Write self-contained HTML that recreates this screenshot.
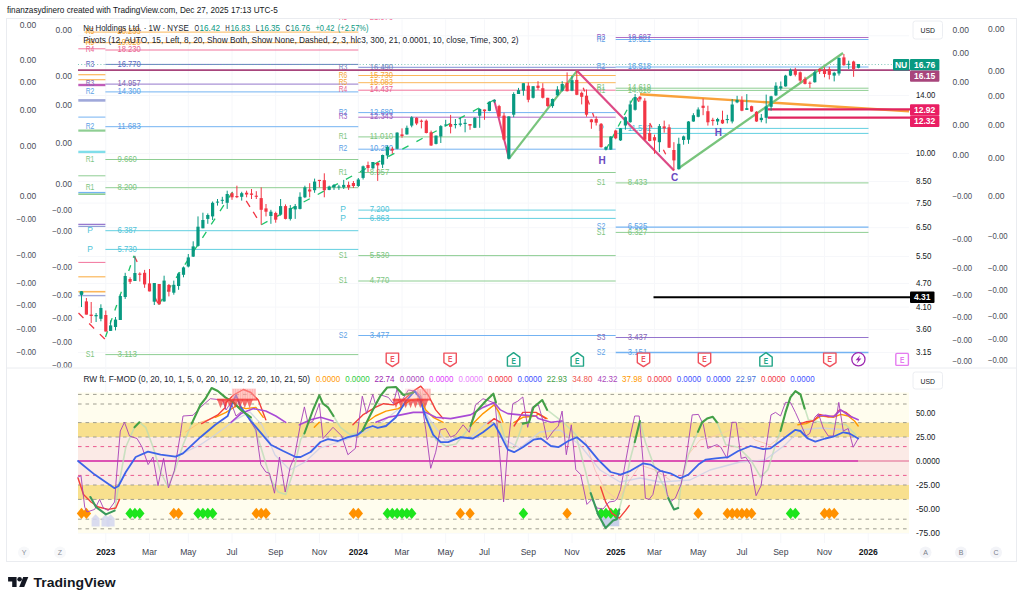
<!DOCTYPE html>
<html><head><meta charset="utf-8"><title>NU chart</title>
<style>
html,body{margin:0;padding:0;background:#fff;}
body{width:1024px;height:603px;overflow:hidden;font-family:"Liberation Sans", sans-serif;}
svg{display:block;font-family:"Liberation Sans", sans-serif;}
</style></head><body>
<svg width="1024" height="603" viewBox="0 0 1024 603">
<defs>
<clipPath id="clipTop"><rect x="0" y="19" width="1024" height="600"/></clipPath>
<clipPath id="clipUp"><rect x="0" y="0" width="1024" height="367.5"/></clipPath>
</defs>
<rect width="1024" height="603" fill="#ffffff"/>
<rect x="6.5" y="18.5" width="1010.0" height="543.0" fill="#fff" stroke="#eaecf0" stroke-width="1"/>
<line x1="6.5" y1="368.0" x2="1016.5" y2="368.0" stroke="#eaecf0" stroke-width="1" />
<line x1="105.8" y1="19.5" x2="105.8" y2="543.0" stroke="#f6f7fa" stroke-width="1" />
<line x1="149.5" y1="19.5" x2="149.5" y2="543.0" stroke="#f6f7fa" stroke-width="1" />
<line x1="188.3" y1="19.5" x2="188.3" y2="543.0" stroke="#f6f7fa" stroke-width="1" />
<line x1="232.0" y1="19.5" x2="232.0" y2="543.0" stroke="#f6f7fa" stroke-width="1" />
<line x1="275.7" y1="19.5" x2="275.7" y2="543.0" stroke="#f6f7fa" stroke-width="1" />
<line x1="319.4" y1="19.5" x2="319.4" y2="543.0" stroke="#f6f7fa" stroke-width="1" />
<line x1="358.3" y1="19.5" x2="358.3" y2="543.0" stroke="#f6f7fa" stroke-width="1" />
<line x1="402.0" y1="19.5" x2="402.0" y2="543.0" stroke="#f6f7fa" stroke-width="1" />
<line x1="445.7" y1="19.5" x2="445.7" y2="543.0" stroke="#f6f7fa" stroke-width="1" />
<line x1="484.5" y1="19.5" x2="484.5" y2="543.0" stroke="#f6f7fa" stroke-width="1" />
<line x1="528.3" y1="19.5" x2="528.3" y2="543.0" stroke="#f6f7fa" stroke-width="1" />
<line x1="572.0" y1="19.5" x2="572.0" y2="543.0" stroke="#f6f7fa" stroke-width="1" />
<line x1="615.7" y1="19.5" x2="615.7" y2="543.0" stroke="#f6f7fa" stroke-width="1" />
<line x1="654.5" y1="19.5" x2="654.5" y2="543.0" stroke="#f6f7fa" stroke-width="1" />
<line x1="698.2" y1="19.5" x2="698.2" y2="543.0" stroke="#f6f7fa" stroke-width="1" />
<line x1="741.9" y1="19.5" x2="741.9" y2="543.0" stroke="#f6f7fa" stroke-width="1" />
<line x1="780.8" y1="19.5" x2="780.8" y2="543.0" stroke="#f6f7fa" stroke-width="1" />
<line x1="824.5" y1="19.5" x2="824.5" y2="543.0" stroke="#f6f7fa" stroke-width="1" />
<line x1="868.2" y1="19.5" x2="868.2" y2="543.0" stroke="#f6f7fa" stroke-width="1" />
<line x1="78.0" y1="95.5" x2="909.0" y2="95.5" stroke="#f6f7fa" stroke-width="1" />
<line x1="78.0" y1="153.5" x2="909.0" y2="153.5" stroke="#f6f7fa" stroke-width="1" />
<line x1="78.0" y1="181.5" x2="909.0" y2="181.5" stroke="#f6f7fa" stroke-width="1" />
<line x1="78.0" y1="203.1" x2="909.0" y2="203.1" stroke="#f6f7fa" stroke-width="1" />
<line x1="78.0" y1="227.7" x2="909.0" y2="227.7" stroke="#f6f7fa" stroke-width="1" />
<line x1="78.0" y1="256.5" x2="909.0" y2="256.5" stroke="#f6f7fa" stroke-width="1" />
<line x1="78.0" y1="283.6" x2="909.0" y2="283.6" stroke="#f6f7fa" stroke-width="1" />
<line x1="78.0" y1="307.1" x2="909.0" y2="307.1" stroke="#f6f7fa" stroke-width="1" />
<line x1="78.0" y1="329.5" x2="909.0" y2="329.5" stroke="#f6f7fa" stroke-width="1" />
<line x1="78.0" y1="352.5" x2="909.0" y2="352.5" stroke="#f6f7fa" stroke-width="1" />
<line x1="78.0" y1="35.8" x2="909.0" y2="35.8" stroke="#f6f7fa" stroke-width="1" />
<line x1="78.0" y1="413.0" x2="909.0" y2="413.0" stroke="#f6f7fa" stroke-width="1" />
<line x1="78.0" y1="437.0" x2="909.0" y2="437.0" stroke="#f6f7fa" stroke-width="1" />
<line x1="78.0" y1="485.0" x2="909.0" y2="485.0" stroke="#f6f7fa" stroke-width="1" />
<line x1="78.0" y1="509.0" x2="909.0" y2="509.0" stroke="#f6f7fa" stroke-width="1" />
<line x1="78.0" y1="533.0" x2="909.0" y2="533.0" stroke="#f6f7fa" stroke-width="1" />
<line x1="78.3" y1="48.8" x2="105.4" y2="48.8" stroke="#f2749c" stroke-width="1" />
<line x1="78.3" y1="74.7" x2="105.4" y2="74.7" stroke="#fbb75a" stroke-width="1.2" />
<line x1="78.3" y1="79.7" x2="105.4" y2="79.7" stroke="#fbb75a" stroke-width="1.2" />
<line x1="78.3" y1="85.0" x2="105.4" y2="85.0" stroke="#c05cb8" stroke-width="2.4" />
<line x1="78.3" y1="100.4" x2="105.4" y2="100.4" stroke="#9fa8da" stroke-width="2.6" />
<line x1="78.3" y1="117.1" x2="105.4" y2="117.1" stroke="#74b3f2" stroke-width="1" />
<line x1="78.3" y1="130.6" x2="105.4" y2="130.6" stroke="#8fce93" stroke-width="2.2" />
<line x1="78.3" y1="151.9" x2="105.4" y2="151.9" stroke="#80deea" stroke-width="2.4" />
<line x1="78.3" y1="175.8" x2="105.4" y2="175.8" stroke="#8fce93" stroke-width="1" />
<line x1="78.3" y1="192.6" x2="105.4" y2="192.6" stroke="#74b3f2" stroke-width="1.4" />
<line x1="78.3" y1="194.2" x2="105.4" y2="194.2" stroke="#8fce93" stroke-width="1.6" />
<line x1="78.3" y1="224.3" x2="105.4" y2="224.3" stroke="#7e57c2" stroke-width="1" />
<line x1="78.3" y1="226.3" x2="105.4" y2="226.3" stroke="#7986cb" stroke-width="1" />
<line x1="78.3" y1="262.4" x2="105.4" y2="262.4" stroke="#f2749c" stroke-width="1" />
<line x1="78.3" y1="276.8" x2="105.4" y2="276.8" stroke="#fbb75a" stroke-width="1.2" />
<line x1="78.3" y1="291.7" x2="105.4" y2="291.7" stroke="#fbb75a" stroke-width="1.6" />
<line x1="78.3" y1="295.6" x2="105.4" y2="295.6" stroke="#9fa8da" stroke-width="1.4" />
<line x1="84.3" y1="32.1" x2="358.3" y2="32.1" stroke="#fbb75a" stroke-width="1" />
<text x="90.0" y="34.3" font-size="8.5" fill="#f5a638" text-anchor="middle" font-weight="normal"  textLength="8.6" lengthAdjust="spacingAndGlyphs">R5</text>
<text x="117.5" y="34.3" font-size="8.5" fill="#f5a638" text-anchor="start" font-weight="normal"  textLength="23.3" lengthAdjust="spacingAndGlyphs">20.233</text>
<line x1="84.3" y1="42.7" x2="358.3" y2="42.7" stroke="#fbb75a" stroke-width="1" />
<text x="90.0" y="44.9" font-size="8.5" fill="#f5a638" text-anchor="middle" font-weight="normal"  textLength="8.6" lengthAdjust="spacingAndGlyphs">R5</text>
<text x="117.5" y="44.9" font-size="8.5" fill="#f5a638" text-anchor="start" font-weight="normal"  textLength="23.3" lengthAdjust="spacingAndGlyphs">19.020</text>
<line x1="105.4" y1="50.0" x2="358.3" y2="50.0" stroke="#f2749c" stroke-width="1" />
<text x="90.0" y="52.2" font-size="8.5" fill="#e8628f" text-anchor="middle" font-weight="normal"  textLength="8.6" lengthAdjust="spacingAndGlyphs">R4</text>
<text x="117.5" y="52.2" font-size="8.5" fill="#e8628f" text-anchor="start" font-weight="normal"  textLength="23.3" lengthAdjust="spacingAndGlyphs">18.230</text>
<line x1="105.4" y1="64.4" x2="358.3" y2="64.4" stroke="#6a78c4" stroke-width="1" />
<text x="90.0" y="66.6" font-size="8.5" fill="#5c6bc0" text-anchor="middle" font-weight="normal"  textLength="8.6" lengthAdjust="spacingAndGlyphs">R3</text>
<text x="117.5" y="66.6" font-size="8.5" fill="#5c6bc0" text-anchor="start" font-weight="normal"  textLength="23.3" lengthAdjust="spacingAndGlyphs">16.770</text>
<line x1="105.4" y1="84.1" x2="358.3" y2="84.1" stroke="#9478cc" stroke-width="1" />
<text x="90.0" y="86.3" font-size="8.5" fill="#8269b3" text-anchor="middle" font-weight="normal"  textLength="8.6" lengthAdjust="spacingAndGlyphs">R3</text>
<text x="117.5" y="86.3" font-size="8.5" fill="#8269b3" text-anchor="start" font-weight="normal"  textLength="23.3" lengthAdjust="spacingAndGlyphs">14.957</text>
<line x1="105.4" y1="91.9" x2="358.3" y2="91.9" stroke="#74b3f2" stroke-width="1" />
<text x="90.0" y="94.1" font-size="8.5" fill="#5b9fe6" text-anchor="middle" font-weight="normal"  textLength="8.6" lengthAdjust="spacingAndGlyphs">R2</text>
<text x="117.5" y="94.1" font-size="8.5" fill="#5b9fe6" text-anchor="start" font-weight="normal"  textLength="23.3" lengthAdjust="spacingAndGlyphs">14.300</text>
<line x1="105.4" y1="126.7" x2="358.3" y2="126.7" stroke="#74b3f2" stroke-width="1" />
<text x="90.0" y="128.9" font-size="8.5" fill="#5b9fe6" text-anchor="middle" font-weight="normal"  textLength="8.6" lengthAdjust="spacingAndGlyphs">R2</text>
<text x="117.5" y="128.9" font-size="8.5" fill="#5b9fe6" text-anchor="start" font-weight="normal"  textLength="23.3" lengthAdjust="spacingAndGlyphs">11.683</text>
<line x1="105.4" y1="159.5" x2="358.3" y2="159.5" stroke="#8fce93" stroke-width="1" />
<text x="90.0" y="161.7" font-size="8.5" fill="#7cc580" text-anchor="middle" font-weight="normal"  textLength="8.6" lengthAdjust="spacingAndGlyphs">R1</text>
<text x="117.5" y="161.7" font-size="8.5" fill="#7cc580" text-anchor="start" font-weight="normal"  textLength="19.4" lengthAdjust="spacingAndGlyphs">9.660</text>
<line x1="105.4" y1="187.7" x2="358.3" y2="187.7" stroke="#8fce93" stroke-width="1" />
<text x="90.0" y="189.9" font-size="8.5" fill="#7cc580" text-anchor="middle" font-weight="normal"  textLength="8.6" lengthAdjust="spacingAndGlyphs">R1</text>
<text x="117.5" y="189.9" font-size="8.5" fill="#7cc580" text-anchor="start" font-weight="normal"  textLength="19.4" lengthAdjust="spacingAndGlyphs">8.200</text>
<line x1="105.4" y1="230.7" x2="358.3" y2="230.7" stroke="#62cfe0" stroke-width="1" />
<text x="90.0" y="232.9" font-size="8.5" fill="#4fc3d8" text-anchor="middle" font-weight="normal" >P</text>
<text x="117.5" y="232.9" font-size="8.5" fill="#4fc3d8" text-anchor="start" font-weight="normal"  textLength="19.4" lengthAdjust="spacingAndGlyphs">6.387</text>
<line x1="105.4" y1="249.4" x2="358.3" y2="249.4" stroke="#62cfe0" stroke-width="1" />
<text x="90.0" y="251.6" font-size="8.5" fill="#4fc3d8" text-anchor="middle" font-weight="normal" >P</text>
<text x="117.5" y="251.6" font-size="8.5" fill="#4fc3d8" text-anchor="start" font-weight="normal"  textLength="19.4" lengthAdjust="spacingAndGlyphs">5.730</text>
<line x1="105.4" y1="354.6" x2="358.3" y2="354.6" stroke="#8fce93" stroke-width="1" />
<text x="90.0" y="356.8" font-size="8.5" fill="#7cc580" text-anchor="middle" font-weight="normal"  textLength="8.6" lengthAdjust="spacingAndGlyphs">S1</text>
<text x="117.5" y="356.8" font-size="8.5" fill="#7cc580" text-anchor="start" font-weight="normal"  textLength="19.4" lengthAdjust="spacingAndGlyphs">3.113</text>
<line x1="358.3" y1="67.3" x2="615.7" y2="67.3" stroke="#7f8fd6" stroke-width="1" />
<text x="343.0" y="69.5" font-size="8.5" fill="#6f7dbc" text-anchor="middle" font-weight="normal"  textLength="8.6" lengthAdjust="spacingAndGlyphs">R3</text>
<text x="369.8" y="69.5" font-size="8.5" fill="#6f7dbc" text-anchor="start" font-weight="normal"  textLength="23.3" lengthAdjust="spacingAndGlyphs">16.490</text>
<line x1="358.3" y1="75.5" x2="615.7" y2="75.5" stroke="#fbb75a" stroke-width="1" />
<text x="343.0" y="77.7" font-size="8.5" fill="#f5a638" text-anchor="middle" font-weight="normal"  textLength="8.6" lengthAdjust="spacingAndGlyphs">R6</text>
<text x="369.8" y="77.7" font-size="8.5" fill="#f5a638" text-anchor="start" font-weight="normal"  textLength="23.3" lengthAdjust="spacingAndGlyphs">15.730</text>
<line x1="358.3" y1="82.7" x2="615.7" y2="82.7" stroke="#fbb75a" stroke-width="1" />
<text x="343.0" y="84.9" font-size="8.5" fill="#f5a638" text-anchor="middle" font-weight="normal"  textLength="8.6" lengthAdjust="spacingAndGlyphs">R5</text>
<text x="369.8" y="84.9" font-size="8.5" fill="#f5a638" text-anchor="start" font-weight="normal"  textLength="23.3" lengthAdjust="spacingAndGlyphs">15.083</text>
<line x1="358.3" y1="90.2" x2="615.7" y2="90.2" stroke="#f2749c" stroke-width="1" />
<text x="343.0" y="92.4" font-size="8.5" fill="#e8628f" text-anchor="middle" font-weight="normal"  textLength="8.6" lengthAdjust="spacingAndGlyphs">R4</text>
<text x="369.8" y="92.4" font-size="8.5" fill="#e8628f" text-anchor="start" font-weight="normal"  textLength="23.3" lengthAdjust="spacingAndGlyphs">14.437</text>
<line x1="358.3" y1="112.6" x2="615.7" y2="112.6" stroke="#74b3f2" stroke-width="1" />
<text x="343.0" y="114.8" font-size="8.5" fill="#5b9fe6" text-anchor="middle" font-weight="normal"  textLength="8.6" lengthAdjust="spacingAndGlyphs">R2</text>
<text x="369.8" y="114.8" font-size="8.5" fill="#5b9fe6" text-anchor="start" font-weight="normal"  textLength="23.3" lengthAdjust="spacingAndGlyphs">12.680</text>
<line x1="358.3" y1="117.2" x2="615.7" y2="117.2" stroke="#b06cc4" stroke-width="1" />
<text x="343.0" y="119.4" font-size="8.5" fill="#9a5cc0" text-anchor="middle" font-weight="normal"  textLength="8.6" lengthAdjust="spacingAndGlyphs">R3</text>
<text x="369.8" y="119.4" font-size="8.5" fill="#9a5cc0" text-anchor="start" font-weight="normal"  textLength="23.3" lengthAdjust="spacingAndGlyphs">12.343</text>
<line x1="358.3" y1="136.9" x2="615.7" y2="136.9" stroke="#8fce93" stroke-width="1" />
<text x="343.0" y="139.1" font-size="8.5" fill="#7cc580" text-anchor="middle" font-weight="normal"  textLength="8.6" lengthAdjust="spacingAndGlyphs">R1</text>
<text x="369.8" y="139.1" font-size="8.5" fill="#7cc580" text-anchor="start" font-weight="normal"  textLength="23.3" lengthAdjust="spacingAndGlyphs">11.010</text>
<line x1="358.3" y1="149.2" x2="615.7" y2="149.2" stroke="#74b3f2" stroke-width="1" />
<text x="343.0" y="151.4" font-size="8.5" fill="#5b9fe6" text-anchor="middle" font-weight="normal"  textLength="8.6" lengthAdjust="spacingAndGlyphs">R2</text>
<text x="369.8" y="151.4" font-size="8.5" fill="#5b9fe6" text-anchor="start" font-weight="normal"  textLength="23.3" lengthAdjust="spacingAndGlyphs">10.250</text>
<line x1="358.3" y1="172.5" x2="615.7" y2="172.5" stroke="#8fce93" stroke-width="1" />
<text x="343.0" y="174.7" font-size="8.5" fill="#7cc580" text-anchor="middle" font-weight="normal"  textLength="8.6" lengthAdjust="spacingAndGlyphs">R1</text>
<text x="369.8" y="174.7" font-size="8.5" fill="#7cc580" text-anchor="start" font-weight="normal"  textLength="19.4" lengthAdjust="spacingAndGlyphs">8.957</text>
<line x1="358.3" y1="210.1" x2="615.7" y2="210.1" stroke="#62cfe0" stroke-width="1" />
<text x="343.0" y="212.3" font-size="8.5" fill="#4fc3d8" text-anchor="middle" font-weight="normal" >P</text>
<text x="369.8" y="212.3" font-size="8.5" fill="#4fc3d8" text-anchor="start" font-weight="normal"  textLength="19.4" lengthAdjust="spacingAndGlyphs">7.200</text>
<line x1="358.3" y1="218.4" x2="615.7" y2="218.4" stroke="#62cfe0" stroke-width="1" />
<text x="343.0" y="220.6" font-size="8.5" fill="#4fc3d8" text-anchor="middle" font-weight="normal" >P</text>
<text x="369.8" y="220.6" font-size="8.5" fill="#4fc3d8" text-anchor="start" font-weight="normal"  textLength="19.4" lengthAdjust="spacingAndGlyphs">6.863</text>
<line x1="358.3" y1="255.6" x2="615.7" y2="255.6" stroke="#8fce93" stroke-width="1" />
<text x="343.0" y="257.8" font-size="8.5" fill="#7cc580" text-anchor="middle" font-weight="normal"  textLength="8.6" lengthAdjust="spacingAndGlyphs">S1</text>
<text x="369.8" y="257.8" font-size="8.5" fill="#7cc580" text-anchor="start" font-weight="normal"  textLength="19.4" lengthAdjust="spacingAndGlyphs">5.530</text>
<line x1="358.3" y1="281.0" x2="615.7" y2="281.0" stroke="#8fce93" stroke-width="1" />
<text x="343.0" y="283.2" font-size="8.5" fill="#7cc580" text-anchor="middle" font-weight="normal"  textLength="8.6" lengthAdjust="spacingAndGlyphs">S1</text>
<text x="369.8" y="283.2" font-size="8.5" fill="#7cc580" text-anchor="start" font-weight="normal"  textLength="19.4" lengthAdjust="spacingAndGlyphs">4.770</text>
<line x1="358.3" y1="335.5" x2="615.7" y2="335.5" stroke="#74b3f2" stroke-width="1" />
<text x="343.0" y="337.7" font-size="8.5" fill="#5b9fe6" text-anchor="middle" font-weight="normal"  textLength="8.6" lengthAdjust="spacingAndGlyphs">S2</text>
<text x="369.8" y="337.7" font-size="8.5" fill="#5b9fe6" text-anchor="start" font-weight="normal"  textLength="19.4" lengthAdjust="spacingAndGlyphs">3.477</text>
<text x="369.8" y="20.0" font-size="8.5" fill="#f2749c" text-anchor="start" font-weight="normal" clip-path="url(#clipTop)" textLength="23.3" lengthAdjust="spacingAndGlyphs">21.976</text>
<text x="343.0" y="20.0" font-size="8.5" fill="#f2749c" text-anchor="middle" font-weight="normal" clip-path="url(#clipTop)" textLength="8.6" lengthAdjust="spacingAndGlyphs">R5</text>
<line x1="615.7" y1="37.5" x2="868.5" y2="37.5" stroke="#b06cc4" stroke-width="1" />
<text x="601.0" y="39.7" font-size="8.5" fill="#9a5cc0" text-anchor="middle" font-weight="normal"  textLength="8.6" lengthAdjust="spacingAndGlyphs">R3</text>
<text x="627.8" y="39.7" font-size="8.5" fill="#9a5cc0" text-anchor="start" font-weight="normal"  textLength="23.3" lengthAdjust="spacingAndGlyphs">19.607</text>
<line x1="615.7" y1="39.5" x2="868.5" y2="39.5" stroke="#74b3f2" stroke-width="1" />
<text x="601.0" y="41.7" font-size="8.5" fill="#5b9fe6" text-anchor="middle" font-weight="normal"  textLength="8.6" lengthAdjust="spacingAndGlyphs">R2</text>
<text x="627.8" y="41.7" font-size="8.5" fill="#5b9fe6" text-anchor="start" font-weight="normal"  textLength="23.3" lengthAdjust="spacingAndGlyphs">19.521</text>
<line x1="615.7" y1="67.0" x2="868.5" y2="67.0" stroke="#74b3f2" stroke-width="1" />
<text x="601.0" y="69.2" font-size="8.5" fill="#5b9fe6" text-anchor="middle" font-weight="normal"  textLength="8.6" lengthAdjust="spacingAndGlyphs">R2</text>
<text x="627.8" y="69.2" font-size="8.5" fill="#5b9fe6" text-anchor="start" font-weight="normal"  textLength="23.3" lengthAdjust="spacingAndGlyphs">16.518</text>
<line x1="615.7" y1="88.2" x2="868.5" y2="88.2" stroke="#8fce93" stroke-width="1" />
<text x="601.0" y="90.4" font-size="8.5" fill="#7cc580" text-anchor="middle" font-weight="normal"  textLength="8.6" lengthAdjust="spacingAndGlyphs">R1</text>
<text x="627.8" y="90.4" font-size="8.5" fill="#7cc580" text-anchor="start" font-weight="normal"  textLength="23.3" lengthAdjust="spacingAndGlyphs">14.619</text>
<line x1="615.7" y1="90.4" x2="868.5" y2="90.4" stroke="#8fce93" stroke-width="1" />
<text x="601.0" y="92.6" font-size="8.5" fill="#7cc580" text-anchor="middle" font-weight="normal"  textLength="8.6" lengthAdjust="spacingAndGlyphs">R1</text>
<text x="627.8" y="92.6" font-size="8.5" fill="#7cc580" text-anchor="start" font-weight="normal"  textLength="23.3" lengthAdjust="spacingAndGlyphs">14.610</text>
<line x1="615.7" y1="128.4" x2="868.5" y2="128.4" stroke="#62cfe0" stroke-width="1" />
<text x="601.0" y="130.6" font-size="8.5" fill="#4fc3d8" text-anchor="middle" font-weight="normal" >P</text>
<text x="627.8" y="130.6" font-size="8.5" fill="#4fc3d8" text-anchor="start" font-weight="normal"  textLength="23.3" lengthAdjust="spacingAndGlyphs">11.552</text>
<line x1="615.7" y1="133.4" x2="868.5" y2="133.4" stroke="#62cfe0" stroke-width="1" />
<line x1="615.7" y1="182.9" x2="868.5" y2="182.9" stroke="#8fce93" stroke-width="1" />
<text x="601.0" y="185.1" font-size="8.5" fill="#7cc580" text-anchor="middle" font-weight="normal"  textLength="8.6" lengthAdjust="spacingAndGlyphs">S1</text>
<text x="627.8" y="185.1" font-size="8.5" fill="#7cc580" text-anchor="start" font-weight="normal"  textLength="19.4" lengthAdjust="spacingAndGlyphs">8.433</text>
<line x1="615.7" y1="227.1" x2="868.5" y2="227.1" stroke="#74b3f2" stroke-width="1.4" />
<text x="601.0" y="229.3" font-size="8.5" fill="#5b9fe6" text-anchor="middle" font-weight="normal"  textLength="8.6" lengthAdjust="spacingAndGlyphs">S2</text>
<text x="627.8" y="229.3" font-size="8.5" fill="#5b9fe6" text-anchor="start" font-weight="normal"  textLength="19.4" lengthAdjust="spacingAndGlyphs">6.525</text>
<line x1="615.7" y1="232.4" x2="868.5" y2="232.4" stroke="#8fce93" stroke-width="1" />
<text x="601.0" y="234.6" font-size="8.5" fill="#7cc580" text-anchor="middle" font-weight="normal"  textLength="8.6" lengthAdjust="spacingAndGlyphs">S1</text>
<text x="627.8" y="234.6" font-size="8.5" fill="#7cc580" text-anchor="start" font-weight="normal"  textLength="19.4" lengthAdjust="spacingAndGlyphs">6.327</text>
<line x1="615.7" y1="337.5" x2="868.5" y2="337.5" stroke="#9575cd" stroke-width="1" />
<text x="601.0" y="339.7" font-size="8.5" fill="#8366b4" text-anchor="middle" font-weight="normal"  textLength="8.6" lengthAdjust="spacingAndGlyphs">S3</text>
<text x="627.8" y="339.7" font-size="8.5" fill="#8366b4" text-anchor="start" font-weight="normal"  textLength="19.4" lengthAdjust="spacingAndGlyphs">3.437</text>
<line x1="615.7" y1="352.5" x2="868.5" y2="352.5" stroke="#74b3f2" stroke-width="1.4" />
<text x="601.0" y="354.7" font-size="8.5" fill="#5b9fe6" text-anchor="middle" font-weight="normal"  textLength="8.6" lengthAdjust="spacingAndGlyphs">S2</text>
<text x="627.8" y="354.7" font-size="8.5" fill="#5b9fe6" text-anchor="start" font-weight="normal"  textLength="19.4" lengthAdjust="spacingAndGlyphs">3.151</text>
<line x1="78.0" y1="64.5" x2="893.0" y2="64.5" stroke="#5fb8a8" stroke-width="1" stroke-dasharray="1 2.2" opacity="0.8"/>
<line x1="78.0" y1="70.1" x2="910.0" y2="70.1" stroke="#a8457c" stroke-width="1.6" />
<line x1="653.5" y1="297.3" x2="910.0" y2="297.3" stroke="#000" stroke-width="2" />
<line x1="640.0" y1="94.3" x2="909.0" y2="111.2" stroke="#f9a13a" stroke-width="2.4" />
<line x1="767.7" y1="109.4" x2="910.0" y2="109.4" stroke="#e0245e" stroke-width="2.2" />
<line x1="767.7" y1="117.6" x2="910.0" y2="117.6" stroke="#e0245e" stroke-width="2.2" />
<line x1="78.5" y1="313.0" x2="105.8" y2="340.0" stroke="#f23645" stroke-width="1.3" stroke-dasharray="7 8"/>
<line x1="105.5" y1="337.0" x2="134.0" y2="255.8" stroke="#1ec46a" stroke-width="1.3" stroke-dasharray="6 8"/>
<line x1="134.5" y1="256.5" x2="158.6" y2="304.7" stroke="#f23645" stroke-width="1.3" stroke-dasharray="6 40"/>
<line x1="158.6" y1="304.7" x2="236.6" y2="185.7" stroke="#1ec46a" stroke-width="1.3" stroke-dasharray="7 9"/>
<line x1="236.6" y1="185.7" x2="261.3" y2="224.7" stroke="#f23645" stroke-width="1.3" stroke-dasharray="0 18 7 6 7 20"/>
<line x1="261.3" y1="224.7" x2="494.2" y2="99.9" stroke="#1ec46a" stroke-width="1.3" stroke-dasharray="7 9"/>
<line x1="577.0" y1="70.8" x2="606.0" y2="149.5" stroke="#f23645" stroke-width="1.3" stroke-dasharray="0 18 4 9 5 9 4 60"/>
<line x1="606.0" y1="149.5" x2="635.1" y2="94.6" stroke="#1ec46a" stroke-width="1.3" stroke-dasharray="6 7"/>
<line x1="635.1" y1="94.6" x2="674.0" y2="170.4" stroke="#f23645" stroke-width="1.3" stroke-dasharray="0 4 4 24 5 25 5 40"/>
<line x1="494.1" y1="99.8" x2="509.0" y2="158.7" stroke="#dd4a86" stroke-width="2" />
<line x1="509.0" y1="158.7" x2="577.0" y2="70.8" stroke="#78c47c" stroke-width="2.2" />
<line x1="577.0" y1="70.8" x2="674.0" y2="170.4" stroke="#dd4a86" stroke-width="2.2" />
<line x1="679.0" y1="168.0" x2="843.0" y2="53.0" stroke="#78c47c" stroke-width="2.2" />
<line x1="81.5" y1="291.4" x2="81.5" y2="307.0" stroke="#089981" stroke-width="1" />
<rect x="79.9" y="291.7" width="3.2" height="3.0" fill="#089981" />
<line x1="86.4" y1="298.0" x2="86.4" y2="314.6" stroke="#f23645" stroke-width="1" />
<rect x="84.8" y="301.4" width="3.2" height="13.2" fill="#f23645" />
<line x1="91.2" y1="302.0" x2="91.2" y2="323.0" stroke="#f23645" stroke-width="1" />
<rect x="89.6" y="314.6" width="3.2" height="1.4" fill="#f23645" />
<line x1="96.1" y1="313.0" x2="96.1" y2="322.0" stroke="#089981" stroke-width="1" />
<rect x="94.5" y="315.0" width="3.2" height="1.3" fill="#089981" />
<line x1="100.9" y1="304.3" x2="100.9" y2="321.3" stroke="#089981" stroke-width="1" />
<rect x="99.3" y="308.0" width="3.2" height="10.8" fill="#089981" />
<line x1="105.8" y1="310.5" x2="105.8" y2="331.5" stroke="#f23645" stroke-width="1" />
<rect x="104.2" y="315.0" width="3.2" height="16.5" fill="#f23645" />
<line x1="110.6" y1="320.4" x2="110.6" y2="330.9" stroke="#089981" stroke-width="1" />
<rect x="109.0" y="325.4" width="3.2" height="5.5" fill="#089981" />
<line x1="115.5" y1="317.0" x2="115.5" y2="330.4" stroke="#089981" stroke-width="1" />
<rect x="113.9" y="319.6" width="3.2" height="7.4" fill="#089981" />
<line x1="120.3" y1="294.0" x2="120.3" y2="320.0" stroke="#089981" stroke-width="1" />
<rect x="118.7" y="296.0" width="3.2" height="24.0" fill="#089981" />
<line x1="125.2" y1="272.8" x2="125.2" y2="298.9" stroke="#089981" stroke-width="1" />
<rect x="123.6" y="276.0" width="3.2" height="21.0" fill="#089981" />
<line x1="130.1" y1="277.3" x2="130.1" y2="284.0" stroke="#f23645" stroke-width="1" />
<rect x="128.5" y="279.0" width="3.2" height="2.8" fill="#f23645" />
<line x1="134.9" y1="255.8" x2="134.9" y2="281.0" stroke="#089981" stroke-width="1" />
<rect x="133.3" y="273.0" width="3.2" height="8.0" fill="#089981" />
<line x1="139.8" y1="272.3" x2="139.8" y2="281.5" stroke="#f23645" stroke-width="1" />
<rect x="138.2" y="273.6" width="3.2" height="1.2" fill="#f23645" />
<line x1="144.6" y1="269.9" x2="144.6" y2="287.8" stroke="#f23645" stroke-width="1" />
<rect x="143.0" y="272.8" width="3.2" height="11.6" fill="#f23645" />
<line x1="149.5" y1="269.0" x2="149.5" y2="291.4" stroke="#f23645" stroke-width="1" />
<rect x="147.9" y="283.4" width="3.2" height="8.0" fill="#f23645" />
<line x1="154.3" y1="283.0" x2="154.3" y2="305.0" stroke="#089981" stroke-width="1" />
<rect x="152.7" y="283.0" width="3.2" height="18.7" fill="#089981" />
<line x1="159.2" y1="284.0" x2="159.2" y2="304.6" stroke="#f23645" stroke-width="1" />
<rect x="157.6" y="284.0" width="3.2" height="20.3" fill="#f23645" />
<line x1="164.1" y1="275.7" x2="164.1" y2="301.7" stroke="#089981" stroke-width="1" />
<rect x="162.5" y="280.6" width="3.2" height="20.8" fill="#089981" />
<line x1="168.9" y1="284.0" x2="168.9" y2="296.4" stroke="#f23645" stroke-width="1" />
<rect x="167.3" y="285.0" width="3.2" height="6.7" fill="#f23645" />
<line x1="173.8" y1="280.6" x2="173.8" y2="294.7" stroke="#089981" stroke-width="1" />
<rect x="172.2" y="284.8" width="3.2" height="7.9" fill="#089981" />
<line x1="178.6" y1="272.3" x2="178.6" y2="289.8" stroke="#089981" stroke-width="1" />
<rect x="177.0" y="273.5" width="3.2" height="12.5" fill="#089981" />
<line x1="183.5" y1="266.5" x2="183.5" y2="277.3" stroke="#089981" stroke-width="1" />
<rect x="181.9" y="267.4" width="3.2" height="7.4" fill="#089981" />
<line x1="188.3" y1="254.0" x2="188.3" y2="267.4" stroke="#089981" stroke-width="1" />
<rect x="186.7" y="257.4" width="3.2" height="9.1" fill="#089981" />
<line x1="193.2" y1="241.3" x2="193.2" y2="257.0" stroke="#089981" stroke-width="1" />
<rect x="191.6" y="246.4" width="3.2" height="10.2" fill="#089981" />
<line x1="198.0" y1="216.4" x2="198.0" y2="246.6" stroke="#089981" stroke-width="1" />
<rect x="196.4" y="226.7" width="3.2" height="19.2" fill="#089981" />
<line x1="202.9" y1="212.7" x2="202.9" y2="228.3" stroke="#089981" stroke-width="1" />
<rect x="201.3" y="220.0" width="3.2" height="8.3" fill="#089981" />
<line x1="207.8" y1="213.4" x2="207.8" y2="223.8" stroke="#089981" stroke-width="1" />
<rect x="206.2" y="215.0" width="3.2" height="3.9" fill="#089981" />
<line x1="212.6" y1="201.5" x2="212.6" y2="220.0" stroke="#089981" stroke-width="1" />
<rect x="211.0" y="202.8" width="3.2" height="13.6" fill="#089981" />
<line x1="217.5" y1="199.0" x2="217.5" y2="205.6" stroke="#089981" stroke-width="1" />
<rect x="215.9" y="201.6" width="3.2" height="1.0" fill="#089981" />
<line x1="222.3" y1="196.8" x2="222.3" y2="204.0" stroke="#089981" stroke-width="1" />
<rect x="220.7" y="199.8" width="3.2" height="1.0" fill="#089981" />
<line x1="227.2" y1="190.7" x2="227.2" y2="208.9" stroke="#089981" stroke-width="1" />
<rect x="225.6" y="194.0" width="3.2" height="8.8" fill="#089981" />
<line x1="232.0" y1="192.3" x2="232.0" y2="199.8" stroke="#f23645" stroke-width="1" />
<rect x="230.4" y="193.2" width="3.2" height="4.1" fill="#f23645" />
<line x1="236.9" y1="185.7" x2="236.9" y2="198.1" stroke="#f23645" stroke-width="1" />
<rect x="235.3" y="196.0" width="3.2" height="1.2" fill="#f23645" />
<line x1="241.7" y1="191.8" x2="241.7" y2="200.6" stroke="#089981" stroke-width="1" />
<rect x="240.1" y="193.2" width="3.2" height="3.6" fill="#089981" />
<line x1="246.6" y1="190.7" x2="246.6" y2="197.3" stroke="#f23645" stroke-width="1" />
<rect x="245.0" y="192.7" width="3.2" height="1.8" fill="#f23645" />
<line x1="251.5" y1="189.0" x2="251.5" y2="199.0" stroke="#f23645" stroke-width="1" />
<rect x="249.9" y="193.5" width="3.2" height="1.3" fill="#f23645" />
<line x1="256.3" y1="191.2" x2="256.3" y2="199.0" stroke="#f23645" stroke-width="1" />
<rect x="254.7" y="195.7" width="3.2" height="1.1" fill="#f23645" />
<line x1="261.2" y1="187.4" x2="261.2" y2="224.7" stroke="#f23645" stroke-width="1" />
<rect x="259.6" y="198.1" width="3.2" height="11.7" fill="#f23645" />
<line x1="266.0" y1="204.0" x2="266.0" y2="216.4" stroke="#f23645" stroke-width="1" />
<rect x="264.4" y="208.4" width="3.2" height="3.3" fill="#f23645" />
<line x1="270.9" y1="209.8" x2="270.9" y2="223.8" stroke="#089981" stroke-width="1" />
<rect x="269.3" y="211.7" width="3.2" height="4.3" fill="#089981" />
<line x1="275.7" y1="211.7" x2="275.7" y2="222.7" stroke="#f23645" stroke-width="1" />
<rect x="274.1" y="213.0" width="3.2" height="6.7" fill="#f23645" />
<line x1="280.6" y1="199.0" x2="280.6" y2="215.6" stroke="#089981" stroke-width="1" />
<rect x="279.0" y="206.1" width="3.2" height="8.3" fill="#089981" />
<line x1="285.5" y1="204.4" x2="285.5" y2="219.4" stroke="#f23645" stroke-width="1" />
<rect x="283.9" y="206.1" width="3.2" height="12.8" fill="#f23645" />
<line x1="290.3" y1="205.1" x2="290.3" y2="220.5" stroke="#089981" stroke-width="1" />
<rect x="288.7" y="208.1" width="3.2" height="10.8" fill="#089981" />
<line x1="295.2" y1="204.0" x2="295.2" y2="218.9" stroke="#089981" stroke-width="1" />
<rect x="293.6" y="206.1" width="3.2" height="3.3" fill="#089981" />
<line x1="300.0" y1="192.3" x2="300.0" y2="209.4" stroke="#089981" stroke-width="1" />
<rect x="298.4" y="196.8" width="3.2" height="12.1" fill="#089981" />
<line x1="304.9" y1="185.7" x2="304.9" y2="198.1" stroke="#089981" stroke-width="1" />
<rect x="303.3" y="187.4" width="3.2" height="9.9" fill="#089981" />
<line x1="309.7" y1="183.2" x2="309.7" y2="197.3" stroke="#f23645" stroke-width="1" />
<rect x="308.1" y="189.5" width="3.2" height="2.0" fill="#f23645" />
<line x1="314.6" y1="178.6" x2="314.6" y2="192.8" stroke="#089981" stroke-width="1" />
<rect x="313.0" y="181.6" width="3.2" height="8.6" fill="#089981" />
<line x1="319.4" y1="179.9" x2="319.4" y2="187.4" stroke="#f23645" stroke-width="1" />
<rect x="317.8" y="179.9" width="3.2" height="1.1" fill="#f23645" />
<line x1="324.3" y1="173.3" x2="324.3" y2="197.3" stroke="#f23645" stroke-width="1" />
<rect x="322.7" y="180.2" width="3.2" height="10.0" fill="#f23645" />
<line x1="329.2" y1="185.7" x2="329.2" y2="190.2" stroke="#089981" stroke-width="1" />
<rect x="327.6" y="186.5" width="3.2" height="3.4" fill="#089981" />
<line x1="334.0" y1="184.0" x2="334.0" y2="189.9" stroke="#089981" stroke-width="1" />
<rect x="332.4" y="184.9" width="3.2" height="2.5" fill="#089981" />
<line x1="338.9" y1="184.9" x2="338.9" y2="189.9" stroke="#089981" stroke-width="1" />
<rect x="337.3" y="186.5" width="3.2" height="1.0" fill="#089981" />
<line x1="343.7" y1="179.9" x2="343.7" y2="189.0" stroke="#089981" stroke-width="1" />
<rect x="342.1" y="184.9" width="3.2" height="2.5" fill="#089981" />
<line x1="348.6" y1="181.6" x2="348.6" y2="189.9" stroke="#f23645" stroke-width="1" />
<rect x="347.0" y="184.9" width="3.2" height="2.5" fill="#f23645" />
<line x1="353.4" y1="181.0" x2="353.4" y2="188.0" stroke="#f23645" stroke-width="1" />
<rect x="351.8" y="183.0" width="3.2" height="3.0" fill="#f23645" />
<line x1="358.3" y1="178.0" x2="358.3" y2="187.0" stroke="#089981" stroke-width="1" />
<rect x="356.7" y="179.5" width="3.2" height="6.5" fill="#089981" />
<line x1="363.1" y1="165.5" x2="363.1" y2="179.5" stroke="#089981" stroke-width="1" />
<rect x="361.5" y="166.3" width="3.2" height="11.6" fill="#089981" />
<line x1="368.0" y1="161.6" x2="368.0" y2="172.0" stroke="#f23645" stroke-width="1" />
<rect x="366.4" y="165.0" width="3.2" height="3.0" fill="#f23645" />
<line x1="372.9" y1="162.0" x2="372.9" y2="168.8" stroke="#089981" stroke-width="1" />
<rect x="371.3" y="162.0" width="3.2" height="6.3" fill="#089981" />
<line x1="377.7" y1="162.0" x2="377.7" y2="180.9" stroke="#f23645" stroke-width="1" />
<rect x="376.1" y="163.0" width="3.2" height="2.4" fill="#f23645" />
<line x1="382.6" y1="154.6" x2="382.6" y2="168.0" stroke="#089981" stroke-width="1" />
<rect x="381.0" y="155.0" width="3.2" height="9.6" fill="#089981" />
<line x1="387.4" y1="145.5" x2="387.4" y2="158.8" stroke="#089981" stroke-width="1" />
<rect x="385.8" y="146.7" width="3.2" height="8.8" fill="#089981" />
<line x1="392.3" y1="147.0" x2="392.3" y2="153.8" stroke="#f23645" stroke-width="1" />
<rect x="390.7" y="148.8" width="3.2" height="1.7" fill="#f23645" />
<line x1="397.1" y1="132.3" x2="397.1" y2="149.3" stroke="#089981" stroke-width="1" />
<rect x="395.5" y="132.6" width="3.2" height="16.2" fill="#089981" />
<line x1="402.0" y1="128.4" x2="402.0" y2="137.7" stroke="#f23645" stroke-width="1" />
<rect x="400.4" y="134.4" width="3.2" height="1.6" fill="#f23645" />
<line x1="406.9" y1="125.6" x2="406.9" y2="134.7" stroke="#089981" stroke-width="1" />
<rect x="405.3" y="127.8" width="3.2" height="6.6" fill="#089981" />
<line x1="411.7" y1="116.2" x2="411.7" y2="127.3" stroke="#089981" stroke-width="1" />
<rect x="410.1" y="117.3" width="3.2" height="8.3" fill="#089981" />
<line x1="416.6" y1="117.3" x2="416.6" y2="125.1" stroke="#f23645" stroke-width="1" />
<rect x="415.0" y="117.8" width="3.2" height="5.7" fill="#f23645" />
<line x1="421.4" y1="119.5" x2="421.4" y2="128.4" stroke="#f23645" stroke-width="1" />
<rect x="419.8" y="120.7" width="3.2" height="1.1" fill="#f23645" />
<line x1="426.3" y1="119.5" x2="426.3" y2="133.4" stroke="#f23645" stroke-width="1" />
<rect x="424.7" y="120.7" width="3.2" height="12.3" fill="#f23645" />
<line x1="431.1" y1="130.6" x2="431.1" y2="146.0" stroke="#f23645" stroke-width="1" />
<rect x="429.5" y="132.3" width="3.2" height="13.2" fill="#f23645" />
<line x1="436.0" y1="135.6" x2="436.0" y2="144.4" stroke="#089981" stroke-width="1" />
<rect x="434.4" y="135.6" width="3.2" height="8.3" fill="#089981" />
<line x1="440.8" y1="125.1" x2="440.8" y2="143.0" stroke="#089981" stroke-width="1" />
<rect x="439.2" y="126.1" width="3.2" height="10.3" fill="#089981" />
<line x1="445.7" y1="119.8" x2="445.7" y2="126.1" stroke="#089981" stroke-width="1" />
<rect x="444.1" y="124.5" width="3.2" height="1.0" fill="#089981" />
<line x1="450.6" y1="114.9" x2="450.6" y2="133.4" stroke="#f23645" stroke-width="1" />
<rect x="449.0" y="124.0" width="3.2" height="2.8" fill="#f23645" />
<line x1="455.4" y1="119.0" x2="455.4" y2="128.4" stroke="#089981" stroke-width="1" />
<rect x="453.8" y="124.0" width="3.2" height="1.1" fill="#089981" />
<line x1="460.3" y1="117.3" x2="460.3" y2="126.5" stroke="#089981" stroke-width="1" />
<rect x="458.7" y="123.5" width="3.2" height="1.3" fill="#089981" />
<line x1="465.1" y1="119.0" x2="465.1" y2="132.3" stroke="#089981" stroke-width="1" />
<rect x="463.5" y="122.8" width="3.2" height="1.2" fill="#089981" />
<line x1="470.0" y1="124.0" x2="470.0" y2="129.8" stroke="#f23645" stroke-width="1" />
<rect x="468.4" y="124.0" width="3.2" height="1.6" fill="#f23645" />
<line x1="474.8" y1="117.3" x2="474.8" y2="128.1" stroke="#089981" stroke-width="1" />
<rect x="473.2" y="117.8" width="3.2" height="10.0" fill="#089981" />
<line x1="479.7" y1="108.2" x2="479.7" y2="127.8" stroke="#089981" stroke-width="1" />
<rect x="478.1" y="109.0" width="3.2" height="6.7" fill="#089981" />
<line x1="484.5" y1="109.5" x2="484.5" y2="119.8" stroke="#f23645" stroke-width="1" />
<rect x="482.9" y="109.5" width="3.2" height="1.7" fill="#f23645" />
<line x1="489.4" y1="101.3" x2="489.4" y2="111.2" stroke="#089981" stroke-width="1" />
<rect x="487.8" y="101.8" width="3.2" height="9.1" fill="#089981" />
<line x1="494.3" y1="99.3" x2="494.3" y2="103.0" stroke="#089981" stroke-width="1" />
<rect x="492.7" y="99.8" width="3.2" height="1.7" fill="#089981" />
<line x1="499.1" y1="104.8" x2="499.1" y2="117.2" stroke="#f23645" stroke-width="1" />
<rect x="497.5" y="106.1" width="3.2" height="10.3" fill="#f23645" />
<line x1="504.0" y1="112.7" x2="504.0" y2="140.4" stroke="#f23645" stroke-width="1" />
<rect x="502.4" y="115.6" width="3.2" height="24.0" fill="#f23645" />
<line x1="508.8" y1="116.4" x2="508.8" y2="159.5" stroke="#089981" stroke-width="1" />
<rect x="507.2" y="116.4" width="3.2" height="42.3" fill="#089981" />
<line x1="513.7" y1="92.3" x2="513.7" y2="117.2" stroke="#089981" stroke-width="1" />
<rect x="512.1" y="94.0" width="3.2" height="20.7" fill="#089981" />
<line x1="518.5" y1="87.9" x2="518.5" y2="94.0" stroke="#089981" stroke-width="1" />
<rect x="516.9" y="90.2" width="3.2" height="3.8" fill="#089981" />
<line x1="523.4" y1="83.2" x2="523.4" y2="95.7" stroke="#089981" stroke-width="1" />
<rect x="521.8" y="83.2" width="3.2" height="7.5" fill="#089981" />
<line x1="528.3" y1="82.4" x2="528.3" y2="102.3" stroke="#f23645" stroke-width="1" />
<rect x="526.7" y="85.7" width="3.2" height="14.1" fill="#f23645" />
<line x1="533.1" y1="86.2" x2="533.1" y2="98.5" stroke="#089981" stroke-width="1" />
<rect x="531.5" y="86.2" width="3.2" height="11.6" fill="#089981" />
<line x1="538.0" y1="81.2" x2="538.0" y2="89.9" stroke="#f23645" stroke-width="1" />
<rect x="536.4" y="85.7" width="3.2" height="2.2" fill="#f23645" />
<line x1="542.8" y1="83.2" x2="542.8" y2="98.5" stroke="#f23645" stroke-width="1" />
<rect x="541.2" y="88.2" width="3.2" height="9.6" fill="#f23645" />
<line x1="547.7" y1="97.8" x2="547.7" y2="106.8" stroke="#f23645" stroke-width="1" />
<rect x="546.1" y="97.8" width="3.2" height="8.3" fill="#f23645" />
<line x1="552.5" y1="98.5" x2="552.5" y2="107.8" stroke="#089981" stroke-width="1" />
<rect x="550.9" y="99.0" width="3.2" height="7.1" fill="#089981" />
<line x1="557.4" y1="86.2" x2="557.4" y2="96.2" stroke="#089981" stroke-width="1" />
<rect x="555.8" y="89.5" width="3.2" height="5.7" fill="#089981" />
<line x1="562.2" y1="81.2" x2="562.2" y2="91.5" stroke="#089981" stroke-width="1" />
<rect x="560.6" y="84.0" width="3.2" height="6.7" fill="#089981" />
<line x1="567.1" y1="72.4" x2="567.1" y2="91.5" stroke="#f23645" stroke-width="1" />
<rect x="565.5" y="82.9" width="3.2" height="8.3" fill="#f23645" />
<line x1="572.0" y1="75.8" x2="572.0" y2="91.2" stroke="#089981" stroke-width="1" />
<rect x="570.4" y="80.2" width="3.2" height="10.5" fill="#089981" />
<line x1="576.8" y1="70.8" x2="576.8" y2="95.2" stroke="#f23645" stroke-width="1" />
<rect x="575.2" y="79.9" width="3.2" height="14.9" fill="#f23645" />
<line x1="581.7" y1="91.5" x2="581.7" y2="104.4" stroke="#f23645" stroke-width="1" />
<rect x="580.1" y="92.8" width="3.2" height="4.0" fill="#f23645" />
<line x1="586.5" y1="89.5" x2="586.5" y2="116.7" stroke="#f23645" stroke-width="1" />
<rect x="584.9" y="95.7" width="3.2" height="19.0" fill="#f23645" />
<line x1="591.4" y1="118.9" x2="591.4" y2="128.8" stroke="#f23645" stroke-width="1" />
<rect x="589.8" y="119.4" width="3.2" height="2.8" fill="#f23645" />
<line x1="596.2" y1="116.4" x2="596.2" y2="125.5" stroke="#f23645" stroke-width="1" />
<rect x="594.6" y="118.9" width="3.2" height="3.8" fill="#f23645" />
<line x1="601.1" y1="123.0" x2="601.1" y2="147.6" stroke="#f23645" stroke-width="1" />
<rect x="599.5" y="123.8" width="3.2" height="23.3" fill="#f23645" />
<line x1="605.9" y1="146.2" x2="605.9" y2="150.4" stroke="#089981" stroke-width="1" />
<rect x="604.3" y="147.1" width="3.2" height="2.5" fill="#089981" />
<line x1="610.8" y1="136.0" x2="610.8" y2="150.0" stroke="#089981" stroke-width="1" />
<rect x="609.2" y="136.6" width="3.2" height="13.0" fill="#089981" />
<line x1="615.7" y1="129.7" x2="615.7" y2="139.3" stroke="#f23645" stroke-width="1" />
<rect x="614.1" y="130.5" width="3.2" height="7.8" fill="#f23645" />
<line x1="620.5" y1="128.0" x2="620.5" y2="140.9" stroke="#089981" stroke-width="1" />
<rect x="618.9" y="128.3" width="3.2" height="12.1" fill="#089981" />
<line x1="625.4" y1="116.4" x2="625.4" y2="129.7" stroke="#089981" stroke-width="1" />
<rect x="623.8" y="117.2" width="3.2" height="8.3" fill="#089981" />
<line x1="630.2" y1="100.6" x2="630.2" y2="122.7" stroke="#089981" stroke-width="1" />
<rect x="628.6" y="104.4" width="3.2" height="17.8" fill="#089981" />
<line x1="635.1" y1="94.0" x2="635.1" y2="110.6" stroke="#089981" stroke-width="1" />
<rect x="633.5" y="97.0" width="3.2" height="12.8" fill="#089981" />
<line x1="639.9" y1="96.0" x2="639.9" y2="101.5" stroke="#f23645" stroke-width="1" />
<rect x="638.3" y="96.8" width="3.2" height="2.6" fill="#f23645" />
<line x1="644.8" y1="98.2" x2="644.8" y2="140.5" stroke="#f23645" stroke-width="1" />
<rect x="643.2" y="100.7" width="3.2" height="39.0" fill="#f23645" />
<line x1="649.7" y1="124.4" x2="649.7" y2="141.4" stroke="#f23645" stroke-width="1" />
<rect x="648.1" y="133.0" width="3.2" height="8.0" fill="#f23645" />
<line x1="654.5" y1="134.7" x2="654.5" y2="153.8" stroke="#f23645" stroke-width="1" />
<rect x="652.9" y="137.2" width="3.2" height="3.3" fill="#f23645" />
<line x1="659.4" y1="124.0" x2="659.4" y2="152.1" stroke="#089981" stroke-width="1" />
<rect x="657.8" y="126.1" width="3.2" height="16.1" fill="#089981" />
<line x1="664.2" y1="120.6" x2="664.2" y2="132.7" stroke="#f23645" stroke-width="1" />
<rect x="662.6" y="126.4" width="3.2" height="2.0" fill="#f23645" />
<line x1="669.1" y1="124.4" x2="669.1" y2="148.0" stroke="#f23645" stroke-width="1" />
<rect x="667.5" y="127.3" width="3.2" height="20.4" fill="#f23645" />
<line x1="673.9" y1="142.2" x2="673.9" y2="170.4" stroke="#f23645" stroke-width="1" />
<rect x="672.3" y="150.0" width="3.2" height="10.4" fill="#f23645" />
<line x1="678.8" y1="137.7" x2="678.8" y2="169.6" stroke="#089981" stroke-width="1" />
<rect x="677.2" y="143.8" width="3.2" height="25.4" fill="#089981" />
<line x1="683.6" y1="135.6" x2="683.6" y2="144.7" stroke="#089981" stroke-width="1" />
<rect x="682.0" y="136.4" width="3.2" height="3.6" fill="#089981" />
<line x1="688.5" y1="121.1" x2="688.5" y2="143.8" stroke="#089981" stroke-width="1" />
<rect x="686.9" y="121.5" width="3.2" height="18.2" fill="#089981" />
<line x1="693.4" y1="113.2" x2="693.4" y2="121.8" stroke="#089981" stroke-width="1" />
<rect x="691.8" y="115.2" width="3.2" height="6.3" fill="#089981" />
<line x1="698.2" y1="107.4" x2="698.2" y2="117.3" stroke="#089981" stroke-width="1" />
<rect x="696.6" y="109.5" width="3.2" height="7.3" fill="#089981" />
<line x1="703.1" y1="98.6" x2="703.1" y2="115.2" stroke="#f23645" stroke-width="1" />
<rect x="701.5" y="105.7" width="3.2" height="2.2" fill="#f23645" />
<line x1="707.9" y1="105.7" x2="707.9" y2="125.6" stroke="#f23645" stroke-width="1" />
<rect x="706.3" y="111.2" width="3.2" height="11.1" fill="#f23645" />
<line x1="712.8" y1="117.8" x2="712.8" y2="125.6" stroke="#f23645" stroke-width="1" />
<rect x="711.2" y="119.8" width="3.2" height="1.3" fill="#f23645" />
<line x1="717.6" y1="117.8" x2="717.6" y2="125.1" stroke="#089981" stroke-width="1" />
<rect x="716.0" y="119.0" width="3.2" height="2.5" fill="#089981" />
<line x1="722.5" y1="110.7" x2="722.5" y2="123.9" stroke="#f23645" stroke-width="1" />
<rect x="720.9" y="119.8" width="3.2" height="3.6" fill="#f23645" />
<line x1="727.3" y1="114.8" x2="727.3" y2="123.4" stroke="#089981" stroke-width="1" />
<rect x="725.7" y="119.0" width="3.2" height="1.1" fill="#089981" />
<line x1="732.2" y1="99.1" x2="732.2" y2="123.4" stroke="#089981" stroke-width="1" />
<rect x="730.6" y="104.5" width="3.2" height="17.0" fill="#089981" />
<line x1="737.1" y1="95.8" x2="737.1" y2="103.2" stroke="#089981" stroke-width="1" />
<rect x="735.5" y="99.9" width="3.2" height="2.5" fill="#089981" />
<line x1="741.9" y1="96.3" x2="741.9" y2="111.2" stroke="#f23645" stroke-width="1" />
<rect x="740.3" y="100.2" width="3.2" height="10.5" fill="#f23645" />
<line x1="746.8" y1="94.1" x2="746.8" y2="109.9" stroke="#089981" stroke-width="1" />
<rect x="745.2" y="108.2" width="3.2" height="1.7" fill="#089981" />
<line x1="751.6" y1="105.7" x2="751.6" y2="111.8" stroke="#f23645" stroke-width="1" />
<rect x="750.0" y="106.2" width="3.2" height="5.3" fill="#f23645" />
<line x1="756.5" y1="111.2" x2="756.5" y2="121.8" stroke="#f23645" stroke-width="1" />
<rect x="754.9" y="111.8" width="3.2" height="9.7" fill="#f23645" />
<line x1="761.3" y1="114.0" x2="761.3" y2="122.3" stroke="#089981" stroke-width="1" />
<rect x="759.7" y="117.8" width="3.2" height="2.3" fill="#089981" />
<line x1="766.2" y1="94.6" x2="766.2" y2="123.4" stroke="#089981" stroke-width="1" />
<rect x="764.6" y="106.5" width="3.2" height="11.3" fill="#089981" />
<line x1="771.1" y1="95.8" x2="771.1" y2="110.7" stroke="#089981" stroke-width="1" />
<rect x="769.5" y="96.3" width="3.2" height="10.5" fill="#089981" />
<line x1="775.9" y1="82.3" x2="775.9" y2="96.1" stroke="#089981" stroke-width="1" />
<rect x="774.3" y="85.7" width="3.2" height="9.7" fill="#089981" />
<line x1="780.8" y1="81.5" x2="780.8" y2="90.3" stroke="#089981" stroke-width="1" />
<rect x="779.2" y="86.3" width="3.2" height="2.1" fill="#089981" />
<line x1="785.6" y1="74.8" x2="785.6" y2="86.7" stroke="#089981" stroke-width="1" />
<rect x="784.0" y="75.6" width="3.2" height="10.8" fill="#089981" />
<line x1="790.5" y1="68.5" x2="790.5" y2="76.1" stroke="#089981" stroke-width="1" />
<rect x="788.9" y="69.8" width="3.2" height="5.8" fill="#089981" />
<line x1="795.3" y1="67.8" x2="795.3" y2="76.4" stroke="#f23645" stroke-width="1" />
<rect x="793.7" y="69.8" width="3.2" height="5.0" fill="#f23645" />
<line x1="800.2" y1="71.5" x2="800.2" y2="82.7" stroke="#f23645" stroke-width="1" />
<rect x="798.6" y="72.3" width="3.2" height="8.3" fill="#f23645" />
<line x1="805.0" y1="76.8" x2="805.0" y2="84.4" stroke="#f23645" stroke-width="1" />
<rect x="803.4" y="78.9" width="3.2" height="5.0" fill="#f23645" />
<line x1="809.9" y1="81.4" x2="809.9" y2="88.0" stroke="#f23645" stroke-width="1" />
<rect x="808.3" y="82.7" width="3.2" height="1.0" fill="#f23645" />
<line x1="814.8" y1="70.6" x2="814.8" y2="82.7" stroke="#089981" stroke-width="1" />
<rect x="813.2" y="72.3" width="3.2" height="9.9" fill="#089981" />
<line x1="819.6" y1="68.5" x2="819.6" y2="74.0" stroke="#f23645" stroke-width="1" />
<rect x="818.0" y="69.0" width="3.2" height="2.5" fill="#f23645" />
<line x1="824.5" y1="67.3" x2="824.5" y2="77.3" stroke="#f23645" stroke-width="1" />
<rect x="822.9" y="69.5" width="3.2" height="4.5" fill="#f23645" />
<line x1="829.3" y1="66.8" x2="829.3" y2="79.4" stroke="#f23645" stroke-width="1" />
<rect x="827.7" y="69.0" width="3.2" height="5.8" fill="#f23645" />
<line x1="834.2" y1="71.8" x2="834.2" y2="81.4" stroke="#089981" stroke-width="1" />
<rect x="832.6" y="72.8" width="3.2" height="2.8" fill="#089981" />
<line x1="839.0" y1="57.4" x2="839.0" y2="75.6" stroke="#089981" stroke-width="1" />
<rect x="837.4" y="57.9" width="3.2" height="15.6" fill="#089981" />
<line x1="843.9" y1="54.0" x2="843.9" y2="65.7" stroke="#f23645" stroke-width="1" />
<rect x="842.3" y="57.4" width="3.2" height="7.8" fill="#f23645" />
<line x1="848.7" y1="60.7" x2="848.7" y2="69.0" stroke="#089981" stroke-width="1" />
<rect x="847.1" y="63.8" width="3.2" height="1.0" fill="#089981" />
<line x1="853.6" y1="60.7" x2="853.6" y2="76.8" stroke="#f23645" stroke-width="1" />
<rect x="852.0" y="61.5" width="3.2" height="7.5" fill="#f23645" />
<line x1="858.5" y1="64.0" x2="858.5" y2="68.3" stroke="#089981" stroke-width="1" />
<rect x="856.9" y="64.0" width="3.2" height="3.8" fill="#089981" />
<circle cx="81.5" cy="293" r="1.9" fill="#089981"/>
<text x="602.0" y="163.5" font-size="10" fill="#6a48c0" text-anchor="middle" font-weight="bold" >H</text>
<text x="718.4" y="136.0" font-size="10" fill="#6a48c0" text-anchor="middle" font-weight="bold" >H</text>
<text x="674.5" y="180.5" font-size="10" fill="#6a48c0" text-anchor="middle" font-weight="bold" >C</text>
<polygon points="386.2,353.1 398.6,353.1 398.6,362.6 392.4,366.6 386.2,362.6" fill="#fff" stroke="#f0515d" stroke-width="1.4" stroke-linejoin="round"/>
<text x="392.4" y="362.4" font-size="9" fill="#f0515d" text-anchor="middle" font-weight="bold"  textLength="4.4" lengthAdjust="spacingAndGlyphs">E</text>
<polygon points="443.9,353.1 456.3,353.1 456.3,362.6 450.1,366.6 443.9,362.6" fill="#fff" stroke="#f0515d" stroke-width="1.4" stroke-linejoin="round"/>
<text x="450.1" y="362.4" font-size="9" fill="#f0515d" text-anchor="middle" font-weight="bold"  textLength="4.4" lengthAdjust="spacingAndGlyphs">E</text>
<polygon points="637.3,353.1 649.7,353.1 649.7,362.6 643.5,366.6 637.3,362.6" fill="#fff" stroke="#f0515d" stroke-width="1.4" stroke-linejoin="round"/>
<text x="643.5" y="362.4" font-size="9" fill="#f0515d" text-anchor="middle" font-weight="bold"  textLength="4.4" lengthAdjust="spacingAndGlyphs">E</text>
<polygon points="698.3,353.1 710.7,353.1 710.7,362.6 704.5,366.6 698.3,362.6" fill="#fff" stroke="#f0515d" stroke-width="1.4" stroke-linejoin="round"/>
<text x="704.5" y="362.4" font-size="9" fill="#f0515d" text-anchor="middle" font-weight="bold"  textLength="4.4" lengthAdjust="spacingAndGlyphs">E</text>
<polygon points="823.6,353.1 836.0,353.1 836.0,362.6 829.8,366.6 823.6,362.6" fill="#fff" stroke="#f0515d" stroke-width="1.4" stroke-linejoin="round"/>
<text x="829.8" y="362.4" font-size="9" fill="#f0515d" text-anchor="middle" font-weight="bold"  textLength="4.4" lengthAdjust="spacingAndGlyphs">E</text>
<polygon points="507.4,366.1 507.4,357.1 513.6,352.6 519.8,357.1 519.8,366.1" fill="#fff" stroke="#22a587" stroke-width="1.4" stroke-linejoin="round"/>
<text x="513.6" y="364.4" font-size="9" fill="#22a587" text-anchor="middle" font-weight="bold"  textLength="4.4" lengthAdjust="spacingAndGlyphs">E</text>
<polygon points="571.1,366.1 571.1,357.1 577.3,352.6 583.5,357.1 583.5,366.1" fill="#fff" stroke="#22a587" stroke-width="1.4" stroke-linejoin="round"/>
<text x="577.3" y="364.4" font-size="9" fill="#22a587" text-anchor="middle" font-weight="bold"  textLength="4.4" lengthAdjust="spacingAndGlyphs">E</text>
<polygon points="759.8,366.1 759.8,357.1 766.0,352.6 772.2,357.1 772.2,366.1" fill="#fff" stroke="#22a587" stroke-width="1.4" stroke-linejoin="round"/>
<text x="766.0" y="364.4" font-size="9" fill="#22a587" text-anchor="middle" font-weight="bold"  textLength="4.4" lengthAdjust="spacingAndGlyphs">E</text>
<circle cx="858.4" cy="359.3" r="6.6" fill="#fff" stroke="#9c27b0" stroke-width="1.3"/>
<path d="M860.2 355 L855.6 360.2 L858.2 360.2 L856.6 363.8 L861.4 358.4 L858.8 358.4 Z" fill="#9c27b0"/>
<rect x="895.8" y="353.4" width="12.6" height="12" rx="1" fill="#fff" stroke="#e57cf0" stroke-width="1.4"/>
<text x="902.1" y="362.7" font-size="9" fill="#e57cf0" text-anchor="middle" font-weight="bold"  textLength="4.4" lengthAdjust="spacingAndGlyphs">E</text>
<text x="916.0" y="98.1" font-size="8.5" fill="#131722" text-anchor="start" font-weight="normal"  textLength="19.3" lengthAdjust="spacingAndGlyphs">14.00</text>
<text x="916.0" y="156.1" font-size="8.5" fill="#131722" text-anchor="start" font-weight="normal"  textLength="19.3" lengthAdjust="spacingAndGlyphs">10.00</text>
<text x="916.0" y="184.1" font-size="8.5" fill="#131722" text-anchor="start" font-weight="normal"  textLength="15.4" lengthAdjust="spacingAndGlyphs">8.50</text>
<text x="916.0" y="205.7" font-size="8.5" fill="#131722" text-anchor="start" font-weight="normal"  textLength="15.4" lengthAdjust="spacingAndGlyphs">7.50</text>
<text x="916.0" y="230.3" font-size="8.5" fill="#131722" text-anchor="start" font-weight="normal"  textLength="15.4" lengthAdjust="spacingAndGlyphs">6.50</text>
<text x="916.0" y="259.1" font-size="8.5" fill="#131722" text-anchor="start" font-weight="normal"  textLength="15.4" lengthAdjust="spacingAndGlyphs">5.50</text>
<text x="916.0" y="286.2" font-size="8.5" fill="#131722" text-anchor="start" font-weight="normal"  textLength="15.4" lengthAdjust="spacingAndGlyphs">4.70</text>
<text x="916.0" y="309.7" font-size="8.5" fill="#131722" text-anchor="start" font-weight="normal"  textLength="15.4" lengthAdjust="spacingAndGlyphs">4.10</text>
<text x="916.0" y="332.1" font-size="8.5" fill="#131722" text-anchor="start" font-weight="normal"  textLength="15.4" lengthAdjust="spacingAndGlyphs">3.60</text>
<text x="916.0" y="355.1" font-size="8.5" fill="#131722" text-anchor="start" font-weight="normal"  textLength="15.4" lengthAdjust="spacingAndGlyphs">3.15</text>
<rect x="913" y="21" width="29.5" height="18" rx="2.5" fill="#fff" stroke="#eceef2" stroke-width="1"/>
<text x="927.7" y="33.0" font-size="8" fill="#131722" text-anchor="middle" font-weight="normal"  textLength="14.5" lengthAdjust="spacingAndGlyphs">USD</text>
<rect x="913" y="372" width="29.5" height="17" rx="2.5" fill="#fff" stroke="#eceef2" stroke-width="1"/>
<text x="927.7" y="383.5" font-size="8" fill="#131722" text-anchor="middle" font-weight="normal"  textLength="14.5" lengthAdjust="spacingAndGlyphs">USD</text>
<rect x="893.0" y="59.0" width="16.3" height="11.6" fill="#089981" rx="1"/>
<text x="901.1" y="67.9" font-size="8.5" fill="#fff" text-anchor="middle" font-weight="bold" >NU</text>
<rect x="910.0" y="59.0" width="29.4" height="11.6" fill="#089981" rx="1"/>
<text x="924.7" y="67.9" font-size="8.5" fill="#fff" text-anchor="middle" font-weight="bold" >16.76</text>
<rect x="910.0" y="70.6" width="29.4" height="11.2" fill="#a8457c" rx="1"/>
<text x="924.7" y="79.3" font-size="8.5" fill="#fff" text-anchor="middle" font-weight="bold" >16.15</text>
<rect x="910.0" y="104.3" width="29.4" height="11.2" fill="#e91e63" rx="1"/>
<text x="924.7" y="113.0" font-size="8.5" fill="#fff" text-anchor="middle" font-weight="bold" >12.92</text>
<rect x="910.0" y="115.5" width="29.4" height="11.5" fill="#e91e63" rx="1"/>
<text x="924.7" y="124.3" font-size="8.5" fill="#fff" text-anchor="middle" font-weight="bold" >12.32</text>
<rect x="910.0" y="291.5" width="24.5" height="11.5" fill="#000" rx="1"/>
<text x="922.2" y="300.4" font-size="8.5" fill="#fff" text-anchor="middle" font-weight="bold" >4.31</text>
<text x="36.2" y="27.5" font-size="8.5" fill="#4a4e59" text-anchor="end" font-weight="normal" >0.00</text>
<text x="36.2" y="62.9" font-size="8.5" fill="#4a4e59" text-anchor="end" font-weight="normal" >0.00</text>
<text x="36.2" y="85.2" font-size="8.5" fill="#4a4e59" text-anchor="end" font-weight="normal" >0.00</text>
<text x="36.2" y="113.1" font-size="8.5" fill="#4a4e59" text-anchor="end" font-weight="normal" >0.00</text>
<text x="36.2" y="148.6" font-size="8.5" fill="#4a4e59" text-anchor="end" font-weight="normal" >0.00</text>
<text x="36.2" y="199.4" font-size="8.5" fill="#4a4e59" text-anchor="end" font-weight="normal" >0.00</text>
<text x="36.2" y="221.9" font-size="8.5" fill="#4a4e59" text-anchor="end" font-weight="normal"  textLength="19.7" lengthAdjust="spacingAndGlyphs">−0.00</text>
<text x="36.2" y="258.1" font-size="8.5" fill="#4a4e59" text-anchor="end" font-weight="normal"  textLength="19.7" lengthAdjust="spacingAndGlyphs">−0.00</text>
<text x="36.2" y="285.6" font-size="8.5" fill="#4a4e59" text-anchor="end" font-weight="normal"  textLength="19.7" lengthAdjust="spacingAndGlyphs">−0.00</text>
<text x="36.2" y="307.6" font-size="8.5" fill="#4a4e59" text-anchor="end" font-weight="normal"  textLength="19.7" lengthAdjust="spacingAndGlyphs">−0.00</text>
<text x="36.2" y="331.9" font-size="8.5" fill="#4a4e59" text-anchor="end" font-weight="normal"  textLength="19.7" lengthAdjust="spacingAndGlyphs">−0.00</text>
<text x="36.2" y="355.1" font-size="8.5" fill="#4a4e59" text-anchor="end" font-weight="normal"  textLength="19.7" lengthAdjust="spacingAndGlyphs">−0.00</text>
<text x="72.0" y="33.4" font-size="8.5" fill="#4a4e59" text-anchor="end" font-weight="normal" >0.00</text>
<text x="72.0" y="78.8" font-size="8.5" fill="#4a4e59" text-anchor="end" font-weight="normal" >0.00</text>
<text x="72.0" y="108.1" font-size="8.5" fill="#4a4e59" text-anchor="end" font-weight="normal" >0.00</text>
<text x="72.0" y="146.1" font-size="8.5" fill="#4a4e59" text-anchor="end" font-weight="normal" >0.00</text>
<text x="72.0" y="186.9" font-size="8.5" fill="#4a4e59" text-anchor="end" font-weight="normal" >0.00</text>
<text x="72.0" y="212.6" font-size="8.5" fill="#4a4e59" text-anchor="end" font-weight="normal" clip-path="url(#clipUp)" textLength="19.7" lengthAdjust="spacingAndGlyphs">−0.00</text>
<text x="72.0" y="234.4" font-size="8.5" fill="#4a4e59" text-anchor="end" font-weight="normal" clip-path="url(#clipUp)" textLength="19.7" lengthAdjust="spacingAndGlyphs">−0.00</text>
<text x="72.0" y="269.9" font-size="8.5" fill="#4a4e59" text-anchor="end" font-weight="normal" clip-path="url(#clipUp)" textLength="19.7" lengthAdjust="spacingAndGlyphs">−0.00</text>
<text x="72.0" y="297.6" font-size="8.5" fill="#4a4e59" text-anchor="end" font-weight="normal" clip-path="url(#clipUp)" textLength="19.7" lengthAdjust="spacingAndGlyphs">−0.00</text>
<text x="72.0" y="321.1" font-size="8.5" fill="#4a4e59" text-anchor="end" font-weight="normal" clip-path="url(#clipUp)" textLength="19.7" lengthAdjust="spacingAndGlyphs">−0.00</text>
<text x="72.0" y="345.1" font-size="8.5" fill="#4a4e59" text-anchor="end" font-weight="normal" clip-path="url(#clipUp)" textLength="19.7" lengthAdjust="spacingAndGlyphs">−0.00</text>
<text x="72.0" y="367.6" font-size="8.5" fill="#4a4e59" text-anchor="end" font-weight="normal" clip-path="url(#clipUp)" textLength="19.7" lengthAdjust="spacingAndGlyphs">−0.00</text>
<text x="952.5" y="33.1" font-size="8.5" fill="#4a4e59" text-anchor="start" font-weight="normal" >0.00</text>
<text x="952.5" y="56.1" font-size="8.5" fill="#4a4e59" text-anchor="start" font-weight="normal" >0.00</text>
<text x="952.5" y="85.1" font-size="8.5" fill="#4a4e59" text-anchor="start" font-weight="normal" >0.00</text>
<text x="952.5" y="127.6" font-size="8.5" fill="#4a4e59" text-anchor="start" font-weight="normal" >0.00</text>
<text x="952.5" y="157.6" font-size="8.5" fill="#4a4e59" text-anchor="start" font-weight="normal" >0.00</text>
<text x="952.5" y="199.4" font-size="8.5" fill="#4a4e59" text-anchor="start" font-weight="normal"  textLength="19.7" lengthAdjust="spacingAndGlyphs">−0.00</text>
<text x="952.5" y="241.9" font-size="8.5" fill="#4a4e59" text-anchor="start" font-weight="normal"  textLength="19.7" lengthAdjust="spacingAndGlyphs">−0.00</text>
<text x="952.5" y="271.1" font-size="8.5" fill="#4a4e59" text-anchor="start" font-weight="normal"  textLength="19.7" lengthAdjust="spacingAndGlyphs">−0.00</text>
<text x="952.5" y="298.1" font-size="8.5" fill="#4a4e59" text-anchor="start" font-weight="normal"  textLength="19.7" lengthAdjust="spacingAndGlyphs">−0.00</text>
<text x="952.5" y="320.1" font-size="8.5" fill="#4a4e59" text-anchor="start" font-weight="normal"  textLength="19.7" lengthAdjust="spacingAndGlyphs">−0.00</text>
<text x="952.5" y="342.6" font-size="8.5" fill="#4a4e59" text-anchor="start" font-weight="normal"  textLength="19.7" lengthAdjust="spacingAndGlyphs">−0.00</text>
<text x="952.5" y="363.6" font-size="8.5" fill="#4a4e59" text-anchor="start" font-weight="normal"  textLength="19.7" lengthAdjust="spacingAndGlyphs">−0.00</text>
<text x="988.0" y="31.9" font-size="8.5" fill="#4a4e59" text-anchor="start" font-weight="normal" >0.00</text>
<text x="988.0" y="74.4" font-size="8.5" fill="#4a4e59" text-anchor="start" font-weight="normal" >0.00</text>
<text x="988.0" y="99.4" font-size="8.5" fill="#4a4e59" text-anchor="start" font-weight="normal" >0.00</text>
<text x="988.0" y="127.6" font-size="8.5" fill="#4a4e59" text-anchor="start" font-weight="normal" >0.00</text>
<text x="988.0" y="160.6" font-size="8.5" fill="#4a4e59" text-anchor="start" font-weight="normal" >0.00</text>
<text x="988.0" y="199.4" font-size="8.5" fill="#4a4e59" text-anchor="start" font-weight="normal" >0.00</text>
<text x="988.0" y="238.6" font-size="8.5" fill="#4a4e59" text-anchor="start" font-weight="normal"  textLength="19.7" lengthAdjust="spacingAndGlyphs">−0.00</text>
<text x="988.0" y="271.1" font-size="8.5" fill="#4a4e59" text-anchor="start" font-weight="normal"  textLength="19.7" lengthAdjust="spacingAndGlyphs">−0.00</text>
<text x="988.0" y="293.1" font-size="8.5" fill="#4a4e59" text-anchor="start" font-weight="normal"  textLength="19.7" lengthAdjust="spacingAndGlyphs">−0.00</text>
<text x="988.0" y="318.6" font-size="8.5" fill="#4a4e59" text-anchor="start" font-weight="normal"  textLength="19.7" lengthAdjust="spacingAndGlyphs">−0.00</text>
<text x="988.0" y="341.9" font-size="8.5" fill="#4a4e59" text-anchor="start" font-weight="normal"  textLength="19.7" lengthAdjust="spacingAndGlyphs">−0.00</text>
<text x="988.0" y="363.1" font-size="8.5" fill="#4a4e59" text-anchor="start" font-weight="normal"  textLength="19.7" lengthAdjust="spacingAndGlyphs">−0.00</text>
<rect x="78.0" y="392.5" width="831.0" height="30.1" fill="#fffdee" />
<rect x="78.0" y="499.4" width="831.0" height="33.6" fill="#fffdee" />
<rect x="78.0" y="422.6" width="831.0" height="14.4" fill="#f8e08e" />
<rect x="78.0" y="485.0" width="831.0" height="14.4" fill="#f8e08e" />
<rect x="78.0" y="437.0" width="831.0" height="48.0" fill="#fbeae6" />
<line x1="78.0" y1="394.4" x2="907.0" y2="394.4" stroke="#a09f92" stroke-width="1" stroke-dasharray="3.6 3.9"/>
<line x1="78.0" y1="404.0" x2="907.0" y2="404.0" stroke="#a09f92" stroke-width="1" stroke-dasharray="3.6 3.9"/>
<line x1="78.0" y1="422.6" x2="907.0" y2="422.6" stroke="#a09f92" stroke-width="1" stroke-dasharray="3.6 3.9"/>
<line x1="78.0" y1="437.0" x2="907.0" y2="437.0" stroke="#a09f92" stroke-width="1" stroke-dasharray="3.6 3.9"/>
<line x1="78.0" y1="485.0" x2="907.0" y2="485.0" stroke="#a09f92" stroke-width="1" stroke-dasharray="3.6 3.9"/>
<line x1="78.0" y1="499.4" x2="907.0" y2="499.4" stroke="#a09f92" stroke-width="1" stroke-dasharray="3.6 3.9"/>
<line x1="78.0" y1="519.2" x2="907.0" y2="519.2" stroke="#a09f92" stroke-width="1" stroke-dasharray="3.6 3.9"/>
<line x1="78.0" y1="528.8" x2="907.0" y2="528.8" stroke="#a09f92" stroke-width="1" stroke-dasharray="3.6 3.9"/>
<line x1="78.0" y1="446.6" x2="907.0" y2="446.6" stroke="#ea5a8f" stroke-width="1" stroke-dasharray="3.6 3.9"/>
<line x1="78.0" y1="475.4" x2="907.0" y2="475.4" stroke="#ea5a8f" stroke-width="1" stroke-dasharray="3.6 3.9"/>
<line x1="78.0" y1="461.0" x2="858.2" y2="461.0" stroke="#dc52b4" stroke-width="2" />
<line x1="858.2" y1="461.0" x2="909.0" y2="461.0" stroke="#e0608c" stroke-width="1" />
<polygon points="91.6,526.5 91.6,518.5 95.6,514.3 99.6,518.5 99.6,526.5" fill="#d3d6ee" opacity="0.85"/>
<polygon points="101.5,526.5 101.5,518.5 105.5,514.3 109.5,518.5 109.5,526.5" fill="#d3d6ee" opacity="0.85"/>
<polygon points="106.6,526.5 106.6,518.5 110.6,514.3 114.6,518.5 114.6,526.5" fill="#d3d6ee" opacity="0.85"/>
<rect x="601.9" y="516.8" width="17.4" height="9.5" fill="#b9c3e6" opacity="0.8"/>
<polygon points="76.8,513.4 81.5,507.7 86.2,513.4 81.5,519.1" fill="#ff9100"/>
<polygon points="81.7,513.4 86.4,507.7 91.1,513.4 86.4,519.1" fill="#ff9100"/>
<polygon points="169.1,513.4 173.8,507.7 178.5,513.4 173.8,519.1" fill="#ff9100"/>
<polygon points="173.9,513.4 178.6,507.7 183.3,513.4 178.6,519.1" fill="#ff9100"/>
<polygon points="251.6,513.4 256.3,507.7 261.0,513.4 256.3,519.1" fill="#ff9100"/>
<polygon points="256.5,513.4 261.2,507.7 265.9,513.4 261.2,519.1" fill="#ff9100"/>
<polygon points="261.3,513.4 266.0,507.7 270.7,513.4 266.0,519.1" fill="#ff9100"/>
<polygon points="348.7,513.4 353.4,507.7 358.1,513.4 353.4,519.1" fill="#ff9100"/>
<polygon points="353.6,513.4 358.3,507.7 363.0,513.4 358.3,519.1" fill="#ff9100"/>
<polygon points="455.6,513.4 460.3,507.7 465.0,513.4 460.3,519.1" fill="#ff9100"/>
<polygon points="465.3,513.4 470.0,507.7 474.7,513.4 470.0,519.1" fill="#ff9100"/>
<polygon points="562.4,513.4 567.1,507.7 571.8,513.4 567.1,519.1" fill="#ff9100"/>
<polygon points="693.5,513.4 698.2,507.7 702.9,513.4 698.2,519.1" fill="#ff9100"/>
<polygon points="722.6,513.4 727.3,507.7 732.0,513.4 727.3,519.1" fill="#ff9100"/>
<polygon points="727.5,513.4 732.2,507.7 736.9,513.4 732.2,519.1" fill="#ff9100"/>
<polygon points="732.4,513.4 737.1,507.7 741.8,513.4 737.1,519.1" fill="#ff9100"/>
<polygon points="737.2,513.4 741.9,507.7 746.6,513.4 741.9,519.1" fill="#ff9100"/>
<polygon points="742.1,513.4 746.8,507.7 751.5,513.4 746.8,519.1" fill="#ff9100"/>
<polygon points="746.9,513.4 751.6,507.7 756.3,513.4 751.6,519.1" fill="#ff9100"/>
<polygon points="819.8,513.4 824.5,507.7 829.2,513.4 824.5,519.1" fill="#ff9100"/>
<polygon points="824.6,513.4 829.3,507.7 834.0,513.4 829.3,519.1" fill="#ff9100"/>
<polygon points="829.5,513.4 834.2,507.7 838.9,513.4 834.2,519.1" fill="#ff9100"/>
<polygon points="125.4,513.4 130.1,507.7 134.8,513.4 130.1,519.1" fill="#1de51d"/>
<polygon points="130.2,513.4 134.9,507.7 139.6,513.4 134.9,519.1" fill="#1de51d"/>
<polygon points="135.1,513.4 139.8,507.7 144.5,513.4 139.8,519.1" fill="#1de51d"/>
<polygon points="193.3,513.4 198.0,507.7 202.7,513.4 198.0,519.1" fill="#1de51d"/>
<polygon points="198.2,513.4 202.9,507.7 207.6,513.4 202.9,519.1" fill="#1de51d"/>
<polygon points="203.1,513.4 207.8,507.7 212.5,513.4 207.8,519.1" fill="#1de51d"/>
<polygon points="207.9,513.4 212.6,507.7 217.3,513.4 212.6,519.1" fill="#1de51d"/>
<polygon points="382.7,513.4 387.4,507.7 392.1,513.4 387.4,519.1" fill="#1de51d"/>
<polygon points="387.6,513.4 392.3,507.7 397.0,513.4 392.3,519.1" fill="#1de51d"/>
<polygon points="392.4,513.4 397.1,507.7 401.8,513.4 397.1,519.1" fill="#1de51d"/>
<polygon points="397.3,513.4 402.0,507.7 406.7,513.4 402.0,519.1" fill="#1de51d"/>
<polygon points="402.2,513.4 406.9,507.7 411.6,513.4 406.9,519.1" fill="#1de51d"/>
<polygon points="407.0,513.4 411.7,507.7 416.4,513.4 411.7,519.1" fill="#1de51d"/>
<polygon points="518.7,513.4 523.4,507.7 528.1,513.4 523.4,519.1" fill="#1de51d"/>
<polygon points="596.4,513.4 601.1,507.7 605.8,513.4 601.1,519.1" fill="#1de51d"/>
<polygon points="601.2,513.4 605.9,507.7 610.6,513.4 605.9,519.1" fill="#1de51d"/>
<polygon points="606.1,513.4 610.8,507.7 615.5,513.4 610.8,519.1" fill="#1de51d"/>
<polygon points="611.0,513.4 615.7,507.7 620.4,513.4 615.7,519.1" fill="#1de51d"/>
<polygon points="785.8,513.4 790.5,507.7 795.2,513.4 790.5,519.1" fill="#1de51d"/>
<polygon points="790.6,513.4 795.3,507.7 800.0,513.4 795.3,519.1" fill="#1de51d"/>
<polyline points="114.6,510.6 118.0,489.5 125.8,447.0 134.5,427.3" fill="none" stroke="#b9dcb4" stroke-width="1.6" stroke-linejoin="round" stroke-linecap="round" opacity="0.75"/>
<polyline points="139.4,422.3 145.7,427.3 153.0,447.0 160.6,472.0 168.0,487.0 175.0,470.0 183.0,445.0 191.7,423.6" fill="none" stroke="#b9dcb4" stroke-width="1.6" stroke-linejoin="round" stroke-linecap="round" opacity="0.75"/>
<polyline points="250.9,417.3 260.8,447.0 270.8,479.5 278.2,492.0 285.7,494.5 293.2,472.0 300.6,439.7 304.4,433.5" fill="none" stroke="#b9dcb4" stroke-width="1.6" stroke-linejoin="round" stroke-linecap="round" opacity="0.75"/>
<polyline points="333.5,416.0 340.4,427.3 350.4,434.8 360.3,432.3 362.3,431.0" fill="none" stroke="#b9dcb4" stroke-width="1.6" stroke-linejoin="round" stroke-linecap="round" opacity="0.75"/>
<polyline points="420.0,392.0 428.0,420.0 436.0,440.0 446.0,446.0 456.0,444.0 466.0,432.0 470.5,426.0" fill="none" stroke="#b9dcb4" stroke-width="1.6" stroke-linejoin="round" stroke-linecap="round" opacity="0.75"/>
<polyline points="495.9,402.4 501.0,425.0 507.0,446.0 514.0,448.0 519.0,435.0 522.8,423.6" fill="none" stroke="#b9dcb4" stroke-width="1.6" stroke-linejoin="round" stroke-linecap="round" opacity="0.75"/>
<polyline points="547.1,409.9 563.3,422.3 575.8,434.8 585.7,472.0 590.7,493.2" fill="none" stroke="#b9dcb4" stroke-width="1.6" stroke-linejoin="round" stroke-linecap="round" opacity="0.75"/>
<polyline points="619.3,509.4 625.5,484.5 630.0,460.0 634.7,442.2" fill="none" stroke="#b9dcb4" stroke-width="1.6" stroke-linejoin="round" stroke-linecap="round" opacity="0.75"/>
<polyline points="639.9,421.0 645.4,442.2 655.4,469.6 665.3,489.5 668.3,498.2" fill="none" stroke="#b9dcb4" stroke-width="1.6" stroke-linejoin="round" stroke-linecap="round" opacity="0.75"/>
<polyline points="678.2,508.1 681.0,484.5 688.4,454.7 697.9,431.8" fill="none" stroke="#b9dcb4" stroke-width="1.6" stroke-linejoin="round" stroke-linecap="round" opacity="0.75"/>
<polyline points="717.0,422.3 725.8,444.7 738.2,447.2 750.6,459.6 760.6,477.0 768.0,469.6 775.5,444.7 780.5,431.0" fill="none" stroke="#b9dcb4" stroke-width="1.6" stroke-linejoin="round" stroke-linecap="round" opacity="0.75"/>
<polyline points="804.9,408.6 808.4,419.8 820.9,422.3 845.8,424.8 855.7,434.8" fill="none" stroke="#b9dcb4" stroke-width="1.6" stroke-linejoin="round" stroke-linecap="round" opacity="0.75"/>
<polyline points="175.5,457.0 200.4,444.7 215.3,434.8 235.2,419.8 250.0,412.0 262.0,425.0 275.0,455.0 290.0,470.0 305.0,462.0 320.0,448.0 345.0,440.0 365.0,432.0 380.0,424.0 400.0,408.0 418.0,400.0 430.0,420.0 445.0,440.0 470.0,438.0 490.0,420.0 505.0,440.0 520.0,448.0 540.0,432.0 560.0,430.0 580.0,445.0 600.0,470.0 620.0,482.0 640.0,478.0 660.0,482.0 690.0,480.0 710.0,470.0 740.0,462.0 765.0,460.0 785.0,445.0 800.0,430.0 820.0,428.0 850.0,430.0" fill="none" stroke="#c9cfe6" stroke-width="1.3" stroke-linejoin="round" stroke-linecap="round" opacity="0.8"/>
<polyline points="585.0,440.0 595.0,470.0 605.0,490.0 618.0,500.0 630.0,480.0 640.0,465.0 655.0,470.0 670.0,480.0" fill="none" stroke="#f6b8b0" stroke-width="1" stroke-linejoin="round" stroke-linecap="round" opacity="0.7"/>
<polyline points="688.0,455.0 700.0,440.0 715.0,436.0 730.0,430.0 742.0,428.0 755.0,440.0 770.0,445.0 790.0,430.0 798.0,425.0" fill="none" stroke="#f8c9a8" stroke-width="1" stroke-linejoin="round" stroke-linecap="round" opacity="0.8"/>
<polyline points="185.5,432.0 200.4,422.3 215.3,417.3" fill="none" stroke="#ffc37a" stroke-width="1" stroke-linejoin="round" stroke-linecap="round" />
<polyline points="215.3,417.3 226.0,412.4 236.0,406.0 245.9,408.6 255.9,407.4 263.3,417.3" fill="none" stroke="#ff9800" stroke-width="1.4" stroke-linejoin="round" stroke-linecap="round" />
<polyline points="314.3,427.3 319.3,422.3" fill="none" stroke="#ff9800" stroke-width="1.4" stroke-linejoin="round" stroke-linecap="round" />
<polyline points="366.6,422.3 375.3,416.0 386.0,411.1 398.4,408.6 410.8,400.0 419.5,398.7 425.8,409.9 433.2,417.3 443.2,422.3" fill="none" stroke="#ff9800" stroke-width="1.4" stroke-linejoin="round" stroke-linecap="round" />
<polyline points="471.8,424.8 483.0,413.6 494.2,404.9 499.1,412.4 502.9,422.3" fill="none" stroke="#ff9800" stroke-width="1.4" stroke-linejoin="round" stroke-linecap="round" />
<polyline points="514.1,422.3 522.8,417.3 536.0,416.0 538.4,413.6 547.1,418.6" fill="none" stroke="#ff9800" stroke-width="1.4" stroke-linejoin="round" stroke-linecap="round" />
<polyline points="797.9,424.8 806.0,423.6 814.7,419.8 820.9,416.0 833.3,417.3 840.8,414.4 848.2,416.0 854.5,421.0 858.2,426.0" fill="none" stroke="#ff9800" stroke-width="1.4" stroke-linejoin="round" stroke-linecap="round" />
<polyline points="78.0,478.0 83.5,494.5 91.0,502.0 98.4,507.0 108.3,509.4 115.8,508.0 119.5,499.4" fill="none" stroke="#f4403a" stroke-width="1.4" stroke-linejoin="round" stroke-linecap="round" />
<polyline points="201.6,423.6 217.8,414.9 225.3,407.4 226.0,402.4 233.5,395.0 243.4,389.5 250.9,392.5 258.3,400.0 265.8,419.8" fill="none" stroke="#f4403a" stroke-width="1.4" stroke-linejoin="round" stroke-linecap="round" />
<polyline points="352.9,424.8 362.8,414.9 375.3,407.4 383.5,403.7 393.4,404.9 403.4,400.0 413.3,391.2 420.8,386.2 428.2,395.0 435.7,409.9 443.2,418.6" fill="none" stroke="#f4403a" stroke-width="1.4" stroke-linejoin="round" stroke-linecap="round" />
<polyline points="487.9,423.6 494.2,418.6 500.4,422.3" fill="none" stroke="#f4403a" stroke-width="1.4" stroke-linejoin="round" stroke-linecap="round" />
<polyline points="514.1,426.0 522.8,412.4 536.0,412.4 545.9,418.6" fill="none" stroke="#f4403a" stroke-width="1.4" stroke-linejoin="round" stroke-linecap="round" />
<polyline points="600.6,487.0 605.6,501.9 611.8,513.1 619.3,518.1 625.5,510.6 629.2,505.6" fill="none" stroke="#f4403a" stroke-width="1.4" stroke-linejoin="round" stroke-linecap="round" />
<polyline points="800.4,423.6 806.0,421.8 813.4,421.0 819.6,414.4 828.3,416.8 834.6,416.0 839.5,409.9 845.8,412.4 852.0,417.3" fill="none" stroke="#f4403a" stroke-width="1.4" stroke-linejoin="round" stroke-linecap="round" />
<polyline points="231.0,422.3 241.0,413.6 253.4,408.6 265.8,411.0 275.8,416.0 285.7,422.3" fill="none" stroke="#a94bd6" stroke-width="1.6" stroke-linejoin="round" stroke-linecap="round" />
<polyline points="299.4,424.8 310.6,419.8 320.5,417.3 333.0,421.0" fill="none" stroke="#a94bd6" stroke-width="1.6" stroke-linejoin="round" stroke-linecap="round" />
<polyline points="376.0,422.3 388.4,417.3 400.9,414.9 413.3,412.4 425.8,412.4 435.7,417.3 450.6,418.6 470.5,414.9 483.0,407.4 494.2,402.4 500.4,409.9 507.8,413.6 520.3,414.9 536.0,416.0 538.4,418.6 550.9,422.3 562.1,421.0" fill="none" stroke="#a94bd6" stroke-width="1.6" stroke-linejoin="round" stroke-linecap="round" />
<polyline points="817.8,416.0 825.3,415.3 833.3,416.8 840.8,409.9 849.5,416.0 858.2,419.8" fill="none" stroke="#a94bd6" stroke-width="1.6" stroke-linejoin="round" stroke-linecap="round" />
<polyline points="78.0,477.0 81.0,475.8 84.7,507.0 87.0,512.0 94.7,509.4 99.6,499.4 103.4,508.0 108.3,510.6 114.6,502.0 115.8,484.5 120.3,431.0 124.5,422.3 129.5,436.0 137.0,438.5 142.0,447.0 148.1,464.6 153.0,457.0 158.0,485.7 163.6,458.4 168.5,488.0 174.3,470.8 180.5,433.5 183.0,416.0 193.0,415.3 200.4,407.4 210.3,398.7 222.8,400.0 226.0,410.0 231.0,402.4 236.0,416.0 243.4,410.0 250.9,422.3 255.9,429.8 260.8,464.6 265.8,472.0 269.5,473.3 274.5,493.2 279.5,457.0 285.2,492.0 290.2,467.0 294.4,457.0 300.6,423.6 304.4,406.9 308.1,423.6 313.0,421.0 319.3,403.7 323.0,438.5 333.0,427.3 341.7,436.0 347.9,454.7 355.4,448.4 362.3,396.2 366.6,413.6 372.8,394.5 375.3,403.7 381.0,395.0 388.4,397.4 393.4,403.7 397.1,388.7 400.9,402.4 408.3,390.0 415.8,391.2 420.8,396.2 425.8,429.8 430.7,468.3 435.7,452.2 440.2,429.8 445.7,428.5 450.6,437.2 455.6,434.8 463.1,424.8 469.3,432.3 475.5,404.9 483.0,398.7 492.9,402.4 495.4,406.1 499.1,447.2 503.6,501.9 507.8,447.2 512.8,403.7 517.8,401.2 522.8,397.0 527.7,427.3 532.2,407.4 538.4,404.9 543.4,422.3 547.1,439.7 553.4,431.0 558.3,426.0 562.1,411.1 566.3,454.7 571.3,424.8 575.8,469.6 580.7,474.6 586.9,504.4 591.9,499.4 597.0,508.0 603.0,509.0 609.0,502.0 614.3,501.2 617.0,499.0 620.5,489.5 625.5,462.1 630.5,434.8 634.7,416.0 639.2,416.0 642.9,459.6 645.4,498.2 649.1,499.4 652.9,494.5 657.8,472.0 662.8,470.8 667.3,494.5 670.3,501.9 675.3,498.2 681.0,484.5 686.0,459.6 692.2,414.9 698.4,414.4 703.4,424.8 707.8,448.4 713.3,446.0 717.0,444.7 720.8,447.2 727.0,458.4 732.0,422.3 736.2,422.3 741.2,458.4 745.7,457.1 750.6,464.6 756.1,495.7 761.1,485.7 766.0,447.2 771.0,414.9 775.5,412.4 780.5,416.0 785.5,402.4 790.4,402.4 795.4,412.4 801.0,424.8 806.0,436.0 809.7,433.5 814.7,417.3 818.4,413.6 823.4,428.5 828.3,436.0 833.3,436.0 838.8,402.4 843.3,431.0 848.2,428.5 853.2,447.2 858.2,438.5" fill="none" stroke="#a640b8" stroke-width="0.9" stroke-linejoin="round" stroke-linecap="round" />
<polyline points="78.0,461.0 94.7,474.6 114.6,488.2 118.5,486.0 125.8,472.0 135.7,457.0 148.0,451.7 160.6,454.7 175.5,456.6 183.0,453.4 200.4,437.2 215.3,424.8 227.7,416.0 231.5,405.0 236.0,395.0 241.0,407.4 250.9,421.0 258.3,429.8 270.8,444.7 283.2,451.0 295.7,457.0 300.6,457.0 310.6,452.0 320.5,442.0 328.0,439.2 338.0,441.0 347.9,437.2 357.8,434.8 365.3,428.5 372.8,426.0 377.7,427.8 386.0,426.0 395.9,417.3 405.9,401.0 414.6,391.2 419.5,397.4 425.8,417.3 433.2,434.8 440.7,442.2 448.1,442.2 460.6,437.2 473.0,438.5 483.0,432.3 494.2,423.6 500.4,434.8 507.8,449.7 514.1,452.2 522.8,447.2 533.5,439.7 540.9,438.5 550.9,446.0 558.3,447.2 568.3,441.0 577.0,437.2 585.7,444.7 598.1,459.6 610.6,472.0 620.5,474.6 630.5,470.8 642.9,463.4 650.4,464.6 660.3,470.8 670.3,473.3 680.2,478.3 688.4,474.6 698.4,464.6 705.9,459.6 715.8,458.4 728.2,457.1 738.2,451.0 750.6,446.0 763.1,449.2 770.5,448.4 780.5,441.0 790.4,433.5 795.4,429.8 800.4,431.0 807.8,438.5 815.3,441.7 825.3,438.5 833.3,436.7 843.3,432.3 849.5,433.5 858.2,438.5" fill="none" stroke="#3d63e8" stroke-width="1.8" stroke-linejoin="round" stroke-linecap="round" />
<polyline points="90.4,497.0 96.0,507.0 105.9,514.4 114.6,510.6" fill="none" stroke="#3a9a5c" stroke-width="2.1" stroke-linejoin="round" stroke-linecap="round" />
<polyline points="134.5,427.3 139.4,422.3" fill="none" stroke="#43a047" stroke-width="2.1" stroke-linejoin="round" stroke-linecap="round" />
<polyline points="191.7,423.6 200.4,405.0 205.4,398.7 211.6,388.0 217.8,391.0 225.3,397.4 233.5,402.4 241.0,410.0 250.9,417.3" fill="none" stroke="#43a047" stroke-width="2.1" stroke-linejoin="round" stroke-linecap="round" />
<polyline points="304.4,433.5 313.0,410.0 319.3,395.4 323.0,403.7 328.0,407.4 333.5,416.0" fill="none" stroke="#43a047" stroke-width="2.1" stroke-linejoin="round" stroke-linecap="round" />
<polyline points="362.3,431.0 372.8,410.0 380.2,396.2 387.2,387.5 395.9,387.0 403.4,395.0 413.3,392.5" fill="none" stroke="#43a047" stroke-width="2.1" stroke-linejoin="round" stroke-linecap="round" />
<polyline points="470.5,426.0 475.5,412.4 485.5,401.2 493.4,393.7 495.9,402.4" fill="none" stroke="#43a047" stroke-width="2.1" stroke-linejoin="round" stroke-linecap="round" />
<polyline points="522.8,423.6 529.0,422.3 533.5,407.4 542.2,400.0 547.1,409.9" fill="none" stroke="#43a047" stroke-width="2.1" stroke-linejoin="round" stroke-linecap="round" />
<polyline points="590.7,493.2 598.1,514.4 605.6,528.0 613.1,520.6 616.8,519.3 619.3,509.4" fill="none" stroke="#3a9a5c" stroke-width="2.1" stroke-linejoin="round" stroke-linecap="round" />
<polyline points="634.7,442.2 639.9,421.0" fill="none" stroke="#43a047" stroke-width="2.1" stroke-linejoin="round" stroke-linecap="round" />
<polyline points="668.3,498.2 674.0,509.4 678.2,508.1" fill="none" stroke="#3a9a5c" stroke-width="2.1" stroke-linejoin="round" stroke-linecap="round" />
<polyline points="697.9,431.8 702.1,422.3 707.1,418.6 712.8,416.8 717.0,422.3" fill="none" stroke="#43a047" stroke-width="2.1" stroke-linejoin="round" stroke-linecap="round" />
<polyline points="780.5,431.0 785.5,412.4 790.4,397.4 795.4,391.2 800.5,394.5 804.7,408.6" fill="none" stroke="#43a047" stroke-width="2.1" stroke-linejoin="round" stroke-linecap="round" />
<rect x="232.2" y="388.6" width="23.7" height="10.9" fill="#ff9e9e" opacity="0.55"/>
<line x1="233.2" y1="389.0" x2="233.2" y2="399.5" stroke="#ff7d7d" stroke-width="0.6" opacity="0.5"/>
<line x1="235.6" y1="389.0" x2="235.6" y2="399.5" stroke="#ff7d7d" stroke-width="0.6" opacity="0.5"/>
<line x1="238.0" y1="389.0" x2="238.0" y2="399.5" stroke="#ff7d7d" stroke-width="0.6" opacity="0.5"/>
<line x1="240.4" y1="389.0" x2="240.4" y2="399.5" stroke="#ff7d7d" stroke-width="0.6" opacity="0.5"/>
<line x1="242.8" y1="389.0" x2="242.8" y2="399.5" stroke="#ff7d7d" stroke-width="0.6" opacity="0.5"/>
<line x1="245.2" y1="389.0" x2="245.2" y2="399.5" stroke="#ff7d7d" stroke-width="0.6" opacity="0.5"/>
<line x1="247.6" y1="389.0" x2="247.6" y2="399.5" stroke="#ff7d7d" stroke-width="0.6" opacity="0.5"/>
<line x1="250.0" y1="389.0" x2="250.0" y2="399.5" stroke="#ff7d7d" stroke-width="0.6" opacity="0.5"/>
<line x1="252.4" y1="389.0" x2="252.4" y2="399.5" stroke="#ff7d7d" stroke-width="0.6" opacity="0.5"/>
<line x1="254.8" y1="389.0" x2="254.8" y2="399.5" stroke="#ff7d7d" stroke-width="0.6" opacity="0.5"/>
<polygon points="217.1,399.2 223.9,399.2 220.5,408.3" fill="#f43b3b" opacity="0.72"/>
<polygon points="222.0,399.2 228.8,399.2 225.4,408.3" fill="#f43b3b" opacity="0.72"/>
<polygon points="226.8,399.2 233.6,399.2 230.2,408.3" fill="#f43b3b" opacity="0.72"/>
<polygon points="231.7,399.2 238.5,399.2 235.1,408.3" fill="#f43b3b" opacity="0.72"/>
<polygon points="236.5,399.2 243.3,399.2 239.9,408.3" fill="#f43b3b" opacity="0.72"/>
<polygon points="241.4,399.2 248.2,399.2 244.8,408.3" fill="#f43b3b" opacity="0.72"/>
<polygon points="246.2,399.2 253.0,399.2 249.6,408.3" fill="#f43b3b" opacity="0.72"/>
<rect x="217.1" y="398.6" width="40.5" height="2.0" fill="#f43b3b" opacity="0.75"/>
<rect x="416.9" y="388.6" width="13.8" height="10.9" fill="#ff9e9e" opacity="0.55"/>
<line x1="417.9" y1="389.0" x2="417.9" y2="399.5" stroke="#ff7d7d" stroke-width="0.6" opacity="0.5"/>
<line x1="420.3" y1="389.0" x2="420.3" y2="399.5" stroke="#ff7d7d" stroke-width="0.6" opacity="0.5"/>
<line x1="422.7" y1="389.0" x2="422.7" y2="399.5" stroke="#ff7d7d" stroke-width="0.6" opacity="0.5"/>
<line x1="425.1" y1="389.0" x2="425.1" y2="399.5" stroke="#ff7d7d" stroke-width="0.6" opacity="0.5"/>
<line x1="427.5" y1="389.0" x2="427.5" y2="399.5" stroke="#ff7d7d" stroke-width="0.6" opacity="0.5"/>
<line x1="429.9" y1="389.0" x2="429.9" y2="399.5" stroke="#ff7d7d" stroke-width="0.6" opacity="0.5"/>
<polygon points="392.6,399.2 399.4,399.2 396.0,408.3" fill="#f43b3b" opacity="0.72"/>
<polygon points="397.5,399.2 404.3,399.2 400.9,408.3" fill="#f43b3b" opacity="0.72"/>
<polygon points="402.3,399.2 409.1,399.2 405.7,408.3" fill="#f43b3b" opacity="0.72"/>
<polygon points="407.2,399.2 414.0,399.2 410.6,408.3" fill="#f43b3b" opacity="0.72"/>
<polygon points="412.0,399.2 418.8,399.2 415.4,408.3" fill="#f43b3b" opacity="0.72"/>
<polygon points="416.9,399.2 423.7,399.2 420.3,408.3" fill="#f43b3b" opacity="0.72"/>
<polygon points="421.7,399.2 428.5,399.2 425.1,408.3" fill="#f43b3b" opacity="0.72"/>
<rect x="392.6" y="398.6" width="38.4" height="2.0" fill="#f43b3b" opacity="0.75"/>
<rect x="405.0" y="388.6" width="12.0" height="10.9" fill="#ffb3b3" opacity="0.3"/>
<text x="916.0" y="416.1" font-size="8.5" fill="#131722" text-anchor="start" font-weight="normal"  textLength="19.3" lengthAdjust="spacingAndGlyphs">50.00</text>
<text x="916.0" y="440.1" font-size="8.5" fill="#131722" text-anchor="start" font-weight="normal"  textLength="19.3" lengthAdjust="spacingAndGlyphs">25.00</text>
<text x="916.0" y="464.1" font-size="8.5" fill="#131722" text-anchor="start" font-weight="normal"  textLength="23.8" lengthAdjust="spacingAndGlyphs">0.0000</text>
<text x="916.0" y="488.1" font-size="8.5" fill="#131722" text-anchor="start" font-weight="normal"  textLength="23.8" lengthAdjust="spacingAndGlyphs">-25.00</text>
<text x="916.0" y="512.1" font-size="8.5" fill="#131722" text-anchor="start" font-weight="normal"  textLength="23.8" lengthAdjust="spacingAndGlyphs">-50.00</text>
<text x="916.0" y="536.1" font-size="8.5" fill="#131722" text-anchor="start" font-weight="normal"  textLength="23.8" lengthAdjust="spacingAndGlyphs">-75.00</text>
<text x="83.3" y="31.1" font-size="9" fill="#20242e" text-anchor="start" font-weight="normal"  textLength="105.5" lengthAdjust="spacingAndGlyphs">Nu Holdings Ltd. · 1W · NYSE</text>
<text x="194.4" y="31.1" font-size="9" fill="#20242e" text-anchor="start" font-weight="normal"  textLength="4.6" lengthAdjust="spacingAndGlyphs">O</text>
<text x="199.5" y="31.1" font-size="9" fill="#089981" text-anchor="start" font-weight="normal"  textLength="20.5" lengthAdjust="spacingAndGlyphs">16.42</text>
<text x="225.3" y="31.1" font-size="9" fill="#20242e" text-anchor="start" font-weight="normal"  textLength="4.5" lengthAdjust="spacingAndGlyphs">H</text>
<text x="230.4" y="31.1" font-size="9" fill="#089981" text-anchor="start" font-weight="normal"  textLength="19.6" lengthAdjust="spacingAndGlyphs">16.83</text>
<text x="255.8" y="31.1" font-size="9" fill="#20242e" text-anchor="start" font-weight="normal"  textLength="3.6" lengthAdjust="spacingAndGlyphs">L</text>
<text x="260.0" y="31.1" font-size="9" fill="#089981" text-anchor="start" font-weight="normal"  textLength="20.0" lengthAdjust="spacingAndGlyphs">16.35</text>
<text x="285.5" y="31.1" font-size="9" fill="#20242e" text-anchor="start" font-weight="normal"  textLength="4.4" lengthAdjust="spacingAndGlyphs">C</text>
<text x="290.4" y="31.1" font-size="9" fill="#089981" text-anchor="start" font-weight="normal"  textLength="19.6" lengthAdjust="spacingAndGlyphs">16.76</text>
<text x="315.4" y="31.1" font-size="9" fill="#089981" text-anchor="start" font-weight="normal"  textLength="18.9" lengthAdjust="spacingAndGlyphs">+0.42</text>
<text x="337.8" y="31.1" font-size="9" fill="#089981" text-anchor="start" font-weight="normal"  textLength="30.7" lengthAdjust="spacingAndGlyphs">(+2.57%)</text>
<text x="83.3" y="43.3" font-size="9" fill="#20242e" text-anchor="start" font-weight="normal"  textLength="435.3" lengthAdjust="spacingAndGlyphs">Pivots (12, AUTO, 15, Left, 8, 20, Show Both, Show None, Dashed, 2, 3, hlc3, 300, 21, 0.0001, 10, close, Time, 300, 2)</text>
<text x="83.5" y="382.0" font-size="9" fill="#20242e" text-anchor="start" font-weight="normal"  textLength="226.5" lengthAdjust="spacingAndGlyphs">RW ft. F-MOD (0, 20, 10, 1, 5, 0, 20, 10, 12, 2, 20, 10, 21, 50)</text>
<text x="315.7" y="382.0" font-size="9" fill="#ff9800" text-anchor="start" font-weight="normal"  textLength="24.4" lengthAdjust="spacingAndGlyphs">0.0000</text>
<text x="345.2" y="382.0" font-size="9" fill="#2ecc40" text-anchor="start" font-weight="normal"  textLength="24.4" lengthAdjust="spacingAndGlyphs">0.0000</text>
<text x="374.4" y="382.0" font-size="9" fill="#9c27b0" text-anchor="start" font-weight="normal"  textLength="20.2" lengthAdjust="spacingAndGlyphs">22.74</text>
<text x="399.7" y="382.0" font-size="9" fill="#ab47bc" text-anchor="start" font-weight="normal"  textLength="24.4" lengthAdjust="spacingAndGlyphs">0.0000</text>
<text x="429.0" y="382.0" font-size="9" fill="#e040fb" text-anchor="start" font-weight="normal"  textLength="24.4" lengthAdjust="spacingAndGlyphs">0.0000</text>
<text x="458.6" y="382.0" font-size="9" fill="#ea80fc" text-anchor="start" font-weight="normal"  textLength="24.4" lengthAdjust="spacingAndGlyphs">0.0000</text>
<text x="488.0" y="382.0" font-size="9" fill="#f23645" text-anchor="start" font-weight="normal"  textLength="24.4" lengthAdjust="spacingAndGlyphs">0.0000</text>
<text x="517.5" y="382.0" font-size="9" fill="#3f51ff" text-anchor="start" font-weight="normal"  textLength="24.4" lengthAdjust="spacingAndGlyphs">0.0000</text>
<text x="546.8" y="382.0" font-size="9" fill="#43a047" text-anchor="start" font-weight="normal"  textLength="20.2" lengthAdjust="spacingAndGlyphs">22.93</text>
<text x="572.3" y="382.0" font-size="9" fill="#ef5350" text-anchor="start" font-weight="normal"  textLength="20.2" lengthAdjust="spacingAndGlyphs">34.80</text>
<text x="597.4" y="382.0" font-size="9" fill="#ab47bc" text-anchor="start" font-weight="normal"  textLength="20.2" lengthAdjust="spacingAndGlyphs">42.32</text>
<text x="622.0" y="382.0" font-size="9" fill="#ff9800" text-anchor="start" font-weight="normal"  textLength="20.2" lengthAdjust="spacingAndGlyphs">37.98</text>
<text x="647.2" y="382.0" font-size="9" fill="#f23645" text-anchor="start" font-weight="normal"  textLength="24.4" lengthAdjust="spacingAndGlyphs">0.0000</text>
<text x="676.7" y="382.0" font-size="9" fill="#3f51ff" text-anchor="start" font-weight="normal"  textLength="24.4" lengthAdjust="spacingAndGlyphs">0.0000</text>
<text x="706.3" y="382.0" font-size="9" fill="#3f51ff" text-anchor="start" font-weight="normal"  textLength="24.4" lengthAdjust="spacingAndGlyphs">0.0000</text>
<text x="735.8" y="382.0" font-size="9" fill="#3f6fd9" text-anchor="start" font-weight="normal"  textLength="20.2" lengthAdjust="spacingAndGlyphs">22.97</text>
<text x="761.0" y="382.0" font-size="9" fill="#f23645" text-anchor="start" font-weight="normal"  textLength="24.4" lengthAdjust="spacingAndGlyphs">0.0000</text>
<text x="790.2" y="382.0" font-size="9" fill="#3f51ff" text-anchor="start" font-weight="normal"  textLength="24.4" lengthAdjust="spacingAndGlyphs">0.0000</text>
<text x="105.8" y="555.3" font-size="8.6" fill="#131722" text-anchor="middle" font-weight="bold" >2023</text>
<text x="149.5" y="555.3" font-size="8.6" fill="#40444f" text-anchor="middle" font-weight="normal" >Mar</text>
<text x="188.3" y="555.3" font-size="8.6" fill="#40444f" text-anchor="middle" font-weight="normal" >May</text>
<text x="232.0" y="555.3" font-size="8.6" fill="#40444f" text-anchor="middle" font-weight="normal" >Jul</text>
<text x="275.7" y="555.3" font-size="8.6" fill="#40444f" text-anchor="middle" font-weight="normal" >Sep</text>
<text x="319.4" y="555.3" font-size="8.6" fill="#40444f" text-anchor="middle" font-weight="normal" >Nov</text>
<text x="358.3" y="555.3" font-size="8.6" fill="#131722" text-anchor="middle" font-weight="bold" >2024</text>
<text x="402.0" y="555.3" font-size="8.6" fill="#40444f" text-anchor="middle" font-weight="normal" >Mar</text>
<text x="445.7" y="555.3" font-size="8.6" fill="#40444f" text-anchor="middle" font-weight="normal" >May</text>
<text x="484.5" y="555.3" font-size="8.6" fill="#40444f" text-anchor="middle" font-weight="normal" >Jul</text>
<text x="528.3" y="555.3" font-size="8.6" fill="#40444f" text-anchor="middle" font-weight="normal" >Sep</text>
<text x="572.0" y="555.3" font-size="8.6" fill="#40444f" text-anchor="middle" font-weight="normal" >Nov</text>
<text x="615.7" y="555.3" font-size="8.6" fill="#131722" text-anchor="middle" font-weight="bold" >2025</text>
<text x="654.5" y="555.3" font-size="8.6" fill="#40444f" text-anchor="middle" font-weight="normal" >Mar</text>
<text x="698.2" y="555.3" font-size="8.6" fill="#40444f" text-anchor="middle" font-weight="normal" >May</text>
<text x="741.9" y="555.3" font-size="8.6" fill="#40444f" text-anchor="middle" font-weight="normal" >Jul</text>
<text x="780.8" y="555.3" font-size="8.6" fill="#40444f" text-anchor="middle" font-weight="normal" >Sep</text>
<text x="824.5" y="555.3" font-size="8.6" fill="#40444f" text-anchor="middle" font-weight="normal" >Nov</text>
<text x="868.2" y="555.3" font-size="8.6" fill="#131722" text-anchor="middle" font-weight="bold" >2026</text>
<circle cx="24" cy="552.6" r="6" fill="#f7f8fa"/>
<text x="24.0" y="555.0" font-size="7" fill="#8a8e99" text-anchor="middle" font-weight="normal" >Y</text>
<circle cx="60" cy="552.6" r="6" fill="#f7f8fa"/>
<text x="60.0" y="555.0" font-size="7" fill="#8a8e99" text-anchor="middle" font-weight="normal" >Z</text>
<circle cx="925.5" cy="552.6" r="6" fill="#f3f4f8"/>
<text x="925.5" y="555.2" font-size="7" fill="#7a7e89" text-anchor="middle" font-weight="normal" >A</text>
<circle cx="961" cy="552.6" r="6" fill="#f3f4f8"/>
<text x="961.0" y="555.2" font-size="7" fill="#7a7e89" text-anchor="middle" font-weight="normal" >B</text>
<circle cx="996" cy="552.6" r="6" fill="#f3f4f8"/>
<text x="996.0" y="555.2" font-size="7" fill="#7a7e89" text-anchor="middle" font-weight="normal" >C</text>
<text x="7.0" y="13.2" font-size="9.2" fill="#131722" text-anchor="start" font-weight="normal"  textLength="270.8" lengthAdjust="spacingAndGlyphs">finanzasydinero created with TradingView.com, Dec 27, 2025 17:13 UTC-5</text>
<g fill="#131722"><path d="M8.1 576.9 H16.6 V586.9 H12.2 V581.4 H8.1 Z"/><circle cx="19.6" cy="579.2" r="2.3"/><path d="M23.2 576.9 H28.3 L24.2 586.9 H19.2 Z"/></g>
<text x="33.6" y="586.9" font-size="13.2" fill="#131722" text-anchor="start" font-weight="bold"  textLength="82.0" lengthAdjust="spacingAndGlyphs">TradingView</text>
</svg>
</body></html>
